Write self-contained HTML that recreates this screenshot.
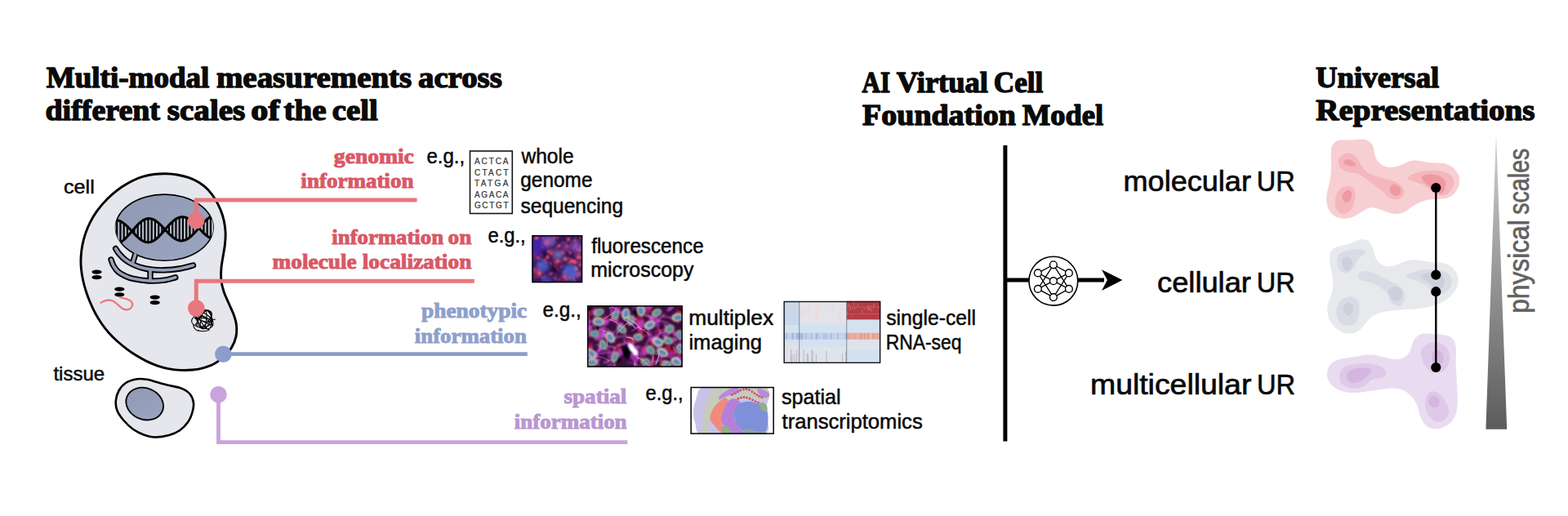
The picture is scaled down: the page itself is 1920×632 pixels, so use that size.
<!DOCTYPE html>
<html lang="en">
<head>
<meta charset="utf-8">
<title>AI Virtual Cell – multi-modal measurements and universal representations</title>
<style>
html,body{margin:0;padding:0;background:#fff;}
body{width:1920px;height:632px;overflow:hidden;font-family:"Liberation Sans",sans-serif;}
svg{display:block;position:absolute;left:0;top:0;}
svg text{white-space:pre;}
</style>
</head>
<body>
<svg width="1920" height="632" viewBox="0 0 1920 632">
<defs>
<linearGradient id="gw" x1="0" y1="0" x2="0" y2="1"><stop offset="0" stop-color="#d2d2d2"/><stop offset="0.45" stop-color="#9a9a9a"/><stop offset="1" stop-color="#5c5c5c"/></linearGradient>
<linearGradient id="gn" x1="0" y1="0" x2="1" y2="1"><stop offset="0" stop-color="#9099b4"/><stop offset="1" stop-color="#9ba5c0"/></linearGradient>
<filter id="b1" x="-20%" y="-20%" width="140%" height="140%"><feGaussianBlur stdDeviation="0.9"/></filter>
<filter id="b2" x="-20%" y="-20%" width="140%" height="140%"><feGaussianBlur stdDeviation="2.2"/></filter>
<filter id="b05" x="-20%" y="-20%" width="140%" height="140%"><feGaussianBlur stdDeviation="0.5"/></filter>
<clipPath id="cnuc"><ellipse cx="201.3" cy="278.7" rx="60" ry="40.7"/></clipPath>
<clipPath id="cfl"><rect x="651.3" y="288" width="62" height="58.3"/></clipPath>
<clipPath id="cmx"><rect x="719" y="374.2" width="116.8" height="75.5"/></clipPath>
<clipPath id="chm"><rect x="959.5" y="368.8" width="118.8" height="76.2"/></clipPath>
<clipPath id="csp"><rect x="845.4" y="473.8" width="102.5" height="58"/></clipPath>
</defs>
<g id="cellgroup">
<path d="M203.04,212.77C207.82,212.85 212.1,213.2 216.84,214.01C221.57,214.83 226.83,216 231.44,217.67C236.05,219.34 240.66,221.59 244.52,224.03C248.37,226.47 251.41,229 254.58,232.31C257.74,235.63 260.91,239.75 263.51,243.93C266.12,248.11 268.43,252.97 270.22,257.38C272.01,261.79 273.26,265.79 274.25,270.39C275.24,274.99 275.94,280.08 276.13,284.98C276.32,289.87 275.88,295.01 275.39,299.75C274.9,304.5 273.95,308.62 273.21,313.44C272.46,318.27 271.31,323.63 270.94,328.69C270.57,333.76 270.46,339.07 270.97,343.81C271.49,348.55 272.54,352.54 274.04,357.12C275.54,361.7 277.96,366.57 279.98,371.27C281.99,375.97 284.56,380.82 286.15,385.33C287.74,389.83 289.04,393.77 289.5,398.31C289.96,402.86 289.92,407.99 288.9,412.62C287.88,417.25 285.74,422.1 283.4,426.09C281.06,430.08 278.28,433.36 274.85,436.55C271.42,439.73 267.1,442.84 262.83,445.19C258.55,447.53 253.67,449.31 249.2,450.62C244.74,451.93 240.71,452.59 236.03,453.05C231.34,453.51 226.08,453.64 221.11,453.39C216.15,453.14 210.9,452.43 206.24,451.55C201.57,450.66 197.59,449.59 193.11,448.06C188.63,446.53 183.81,444.54 179.34,442.37C174.87,440.2 170.34,437.56 166.28,435.05C162.23,432.53 158.83,430.17 155.01,427.3C151.2,424.42 147.08,421.13 143.39,417.78C139.7,414.43 136.03,410.73 132.88,407.19C129.74,403.65 127.22,400.45 124.53,396.54C121.83,392.63 119.1,388.14 116.72,383.73C114.34,379.32 112.13,374.48 110.26,370.06C108.38,365.64 106.92,361.75 105.47,357.21C104.01,352.67 102.55,347.66 101.53,342.82C100.5,337.98 99.72,332.87 99.32,328.17C98.92,323.47 98.84,319.37 99.12,314.61C99.4,309.85 100.02,304.55 101,299.63C101.98,294.71 103.44,289.57 104.99,285.06C106.53,280.56 108.13,276.78 110.26,272.59C112.39,268.41 114.97,263.98 117.76,259.94C120.54,255.9 123.81,251.9 126.98,248.36C130.14,244.82 133.12,241.88 136.74,238.71C140.36,235.54 144.56,232.15 148.69,229.31C152.83,226.47 157.37,223.78 161.57,221.68C165.77,219.58 169.46,218.06 173.89,216.71C178.31,215.35 183.27,214.22 188.13,213.56C192.99,212.91 198.25,212.7 203.04,212.77Z" fill="#e6e7ec" stroke="#000" stroke-width="2.9" stroke-linejoin="round"/>
<path d="M141.6,304.5C142.33,305.58 144.02,308.7 146,311C147.98,313.3 150.83,316.22 153.5,318.3C156.17,320.38 158.83,321.95 162,323.5C165.17,325.05 168.5,326.48 172.5,327.6C176.5,328.72 181.25,329.67 186,330.2C190.75,330.73 195.33,331 201,330.8C206.67,330.6 214.08,329.97 220,329C225.92,328.03 233.75,325.67 236.5,325" fill="none" stroke="#000" stroke-width="7.4" stroke-linecap="round"/>
<path d="M136,318C136.5,319.25 137.58,323.05 139,325.5C140.42,327.95 142.17,330.65 144.5,332.7C146.83,334.75 149.92,336.37 153,337.8C156.08,339.23 158.17,340.27 163,341.3C167.83,342.33 175.67,343.68 182,344C188.33,344.32 195.53,343.9 201,343.2C206.47,342.5 212.5,340.37 214.8,339.8" fill="none" stroke="#000" stroke-width="7.4" stroke-linecap="round"/>
<path d="M165.5,312C165,313.67 163,320.33 162.5,322" fill="none" stroke="#000" stroke-width="7.4" stroke-linecap="round"/>
<path d="M184,331C184,333 184,341 184,343" fill="none" stroke="#000" stroke-width="7.4" stroke-linecap="round"/>
<ellipse cx="201.3" cy="278.7" rx="60.6" ry="41.4" fill="#000"/>
<ellipse cx="201.3" cy="278.7" rx="58.9" ry="39.7" fill="url(#gn)"/>
<path d="M141.6,304.5C142.33,305.58 144.02,308.7 146,311C147.98,313.3 150.83,316.22 153.5,318.3C156.17,320.38 158.83,321.95 162,323.5C165.17,325.05 168.5,326.48 172.5,327.6C176.5,328.72 181.25,329.67 186,330.2C190.75,330.73 195.33,331 201,330.8C206.67,330.6 214.08,329.97 220,329C225.92,328.03 233.75,325.67 236.5,325" fill="none" stroke="#969fba" stroke-width="3.7" stroke-linecap="round"/>
<path d="M136,318C136.5,319.25 137.58,323.05 139,325.5C140.42,327.95 142.17,330.65 144.5,332.7C146.83,334.75 149.92,336.37 153,337.8C156.08,339.23 158.17,340.27 163,341.3C167.83,342.33 175.67,343.68 182,344C188.33,344.32 195.53,343.9 201,343.2C206.47,342.5 212.5,340.37 214.8,339.8" fill="none" stroke="#969fba" stroke-width="3.7" stroke-linecap="round"/>
<path d="M165.5,312C165,313.67 163,320.33 162.5,322" fill="none" stroke="#969fba" stroke-width="3.7" stroke-linecap="round"/>
<path d="M184,331C184,333 184,341 184,343" fill="none" stroke="#969fba" stroke-width="3.7" stroke-linecap="round"/>
<g clip-path="url(#cnuc)">
<path d="M128,292.74 L130,294.42 L132,295.88 L134,297.07 L136,297.97 L138,298.55 L140,298.8 L142,298.71 L144,298.29 L146,297.53 L148,296.45 L150,295.08 L152,293.45 L154,291.59 L156,289.54 L158,287.35 L160,285.07 L162,282.74 L164,280.39 L166,278.11 L168,275.95 L170,273.95 L172,272.17 L174,270.64 L176,269.4 L178,268.47 L180,267.88 L182,267.63 L184,267.74 L186,268.19 L188,268.97 L190,270.07 L192,271.45 L194,273.07 L196,274.91 L198,276.9 L200,279 L202,281.16 L204,283.28 L206,285.35 L208,287.32 L210,289.14 L212,290.78 L214,292.18 L216,293.32 L218,294.16 L220,294.69 L222,294.89 L224,294.75 L226,294.28 L228,293.48 L230,292.36 L232,290.96 L234,289.31 L236,287.43 L238,285.37 L240,283.18 L242,280.9 L244,278.59 L246,276.28 L248,274.04 L250,271.91 L252,269.95 L254,268.2 L256,266.69 L258,265.47 L260,264.55 L262,263.95 L264,263.7 L266,263.78 L268,264.2 L270,264.94 L272,265.99 L274,267.32 L276,268.89 L276,286.55 L274,288.32 L272,289.83 L270,291.07 L268,292.01 L266,292.62 L264,292.9 L262,292.83 L260,292.43 L258,291.7 L256,290.67 L254,289.35 L252,287.79 L250,286.03 L248,284.09 L246,282.04 L244,279.93 L242,277.8 L240,275.71 L238,273.71 L236,271.85 L234,270.16 L232,268.7 L230,267.49 L228,266.57 L226,265.96 L224,265.68 L222,265.74 L220,266.13 L218,266.85 L216,267.88 L214,269.21 L212,270.81 L210,272.63 L208,274.65 L206,276.81 L204,279.07 L202,281.39 L200,283.74 L198,286.03 L196,288.21 L194,290.24 L192,292.06 L190,293.63 L188,294.91 L186,295.89 L184,296.53 L182,296.83 L180,296.78 L178,296.38 L176,295.64 L174,294.59 L172,293.25 L170,291.66 L168,289.86 L166,287.89 L164,285.8 L162,283.64 L160,281.51 L158,279.42 L156,277.42 L154,275.56 L152,273.89 L150,272.45 L148,271.28 L146,270.39 L144,269.83 L142,269.59 L140,269.69 L138,270.14 L136,270.91 L134,272.01 L132,273.39 L130,275.03 L128,276.91Z" fill="#bcc2d3"/>
<path d="M143.2,269.69V298.5M147.45,271V296.78M151.7,273.66V293.71M155.95,277.37V289.59M164.45,279.87V286.28M168.7,275.23V290.51M172.95,271.41V293.92M177.2,268.8V296.12M181.45,267.67V296.85M185.7,268.1V296.01M189.95,270.04V293.66M194.2,273.25V290.04M198.45,277.36V285.52M206.95,275.77V286.3M211.2,271.51V290.15M215.45,268.22V293.03M219.7,266.21V294.63M223.95,265.68V294.76M228.2,266.65V293.38M232.45,269.01V290.61M236.7,272.48V286.73M249.45,272.48V285.51M253.7,268.45V289.13M257.95,265.5V291.68M262.2,263.91V292.85M266.45,263.84V292.51M270.7,265.27V290.67M274.95,268.03V287.51" stroke="#05060a" stroke-width="2.3" fill="none"/>
<path d="M128,292.74 L130,294.42 L132,295.88 L134,297.07 L136,297.97 L138,298.55 L140,298.8 L142,298.71 L144,298.29 L146,297.53 L148,296.45 L150,295.08 L152,293.45 L154,291.59 L156,289.54 L158,287.35 L160,285.07 L162,282.74 L164,280.39 L166,278.11 L168,275.95 L170,273.95 L172,272.17 L174,270.64 L176,269.4 L178,268.47 L180,267.88 L182,267.63 L184,267.74 L186,268.19 L188,268.97 L190,270.07 L192,271.45 L194,273.07 L196,274.91 L198,276.9 L200,279 L202,281.16 L204,283.28 L206,285.35 L208,287.32 L210,289.14 L212,290.78 L214,292.18 L216,293.32 L218,294.16 L220,294.69 L222,294.89 L224,294.75 L226,294.28 L228,293.48 L230,292.36 L232,290.96 L234,289.31 L236,287.43 L238,285.37 L240,283.18 L242,280.9 L244,278.59 L246,276.28 L248,274.04 L250,271.91 L252,269.95 L254,268.2 L256,266.69 L258,265.47 L260,264.55 L262,263.95 L264,263.7 L266,263.78 L268,264.2 L270,264.94 L272,265.99 L274,267.32 L276,268.89" fill="none" stroke="#000" stroke-width="3.1" stroke-linejoin="round"/>
<path d="M128,276.91 L130,275.03 L132,273.39 L134,272.01 L136,270.91 L138,270.14 L140,269.69 L142,269.59 L144,269.83 L146,270.39 L148,271.28 L150,272.45 L152,273.89 L154,275.56 L156,277.42 L158,279.42 L160,281.51 L162,283.64 L164,285.8 L166,287.89 L168,289.86 L170,291.66 L172,293.25 L174,294.59 L176,295.64 L178,296.38 L180,296.78 L182,296.83 L184,296.53 L186,295.89 L188,294.91 L190,293.63 L192,292.06 L194,290.24 L196,288.21 L198,286.03 L200,283.74 L202,281.39 L204,279.07 L206,276.81 L208,274.65 L210,272.63 L212,270.81 L214,269.21 L216,267.88 L218,266.85 L220,266.13 L222,265.74 L224,265.68 L226,265.96 L228,266.57 L230,267.49 L232,268.7 L234,270.16 L236,271.85 L238,273.71 L240,275.71 L242,277.8 L244,279.93 L246,282.04 L248,284.09 L250,286.03 L252,287.79 L254,289.35 L256,290.67 L258,291.7 L260,292.43 L262,292.83 L264,292.9 L266,292.62 L268,292.01 L270,291.07 L272,289.83 L274,288.32 L276,286.55" fill="none" stroke="#000" stroke-width="3.1" stroke-linejoin="round"/>
</g>
<ellipse cx="118.5" cy="333.09999999999997" rx="6.1" ry="2.65" fill="#000"/><ellipse cx="118.5" cy="339.7" rx="6.1" ry="2.65" fill="#000"/>
<ellipse cx="146.3" cy="354.2" rx="6.1" ry="2.65" fill="#000"/><ellipse cx="146.3" cy="360.8" rx="6.1" ry="2.65" fill="#000"/>
<ellipse cx="189.7" cy="364.09999999999997" rx="6.1" ry="2.65" fill="#000"/><ellipse cx="189.7" cy="370.7" rx="6.1" ry="2.65" fill="#000"/>
<path d="M123.5,370.8C124.25,370.43 126.42,369.13 128,368.6C129.58,368.07 131.33,367.6 133,367.6C134.67,367.6 136.42,367.93 138,368.6C139.58,369.27 141,370.43 142.5,371.6C144,372.77 145.5,374.43 147,375.6C148.5,376.77 149.92,378 151.5,378.6C153.08,379.2 155,379.47 156.5,379.2C158,378.93 159.53,378.03 160.5,377C161.47,375.97 162.3,374.33 162.3,373C162.3,371.67 161.55,370.07 160.5,369C159.45,367.93 157.58,367.23 156,366.6C154.42,365.97 152.5,365.6 151,365.2C149.5,364.8 147.67,364.37 147,364.2" fill="none" stroke="#e8777e" stroke-width="2.2" stroke-linecap="round"/>
<path d="M238.49,398.75C243.92,392.42 249.22,378.3 254.78,379.77C260.34,381.24 259.7,402.72 255.18,403.16C250.65,403.6 239.69,384.23 241.21,381.09C242.73,377.96 259.68,387.7 259.74,393.74C259.79,399.78 244.11,403.47 241.37,399.21C238.62,394.96 248.75,380.26 251.5,380.98C254.25,381.7 253.03,400.12 249.62,401.37C246.21,402.62 237.62,385.76 241.28,384.73C244.94,383.71 261.95,398.1 260.6,398.29C259.24,398.48 238.03,390.23 237.22,385.3C236.41,380.37 255.18,378.49 258.17,383.49C261.16,388.48 248.39,401.69 246.18,400.3C243.98,398.9 247.24,379.19 251.56,379.31C255.87,379.43 264.78,395.91 259.13,400.65C253.48,405.4 235.1,400.02 234.61,393.54C234.12,387.06 252.65,378.14 257.68,381.21C262.7,384.29 255.25,401.44 249.69,402.76C244.13,404.07 237.8,387.79 241,385.16C244.21,382.53 260.17,393.48 259.31,394.86C258.45,396.24 236.9,390.49 238.42,389.3C239.95,388.1 255.4,390.61 263.89,391.27" fill="none" stroke="#000" stroke-width="1.05" stroke-linejoin="round"/>
<path d="M236.6,397.5c0.6,4.4 2.8,7 6.2,7.8 M242.5,404.4c3.5,1.8 9.5,1.8 14,-0.4" fill="none" stroke="#000" stroke-width="1.1" stroke-linecap="round"/>
</g>
<path d="M168,464.2C172.33,463.5 175.67,464.07 180,464.8C184.33,465.53 189.5,467.4 194,468.6C198.5,469.8 202.33,470.83 207,472C211.67,473.17 217.75,473.85 222,475.6C226.25,477.35 230,479.52 232.5,482.5C235,485.48 236.5,489.75 237,493.5C237.5,497.25 236.58,501.17 235.5,505C234.42,508.83 233.08,512.78 230.5,516.5C227.92,520.22 223.92,524.55 220,527.3C216.08,530.05 212,531.63 207,533C202,534.37 195.17,535.58 190,535.5C184.83,535.42 180.5,534.12 176,532.5C171.5,530.88 167.08,528.72 163,525.8C158.92,522.88 154.75,518.8 151.5,515C148.25,511.2 145.12,507 143.5,503C141.88,499 141.47,495.08 141.8,491C142.13,486.92 143.47,482.17 145.5,478.5C147.53,474.83 150.25,471.38 154,469C157.75,466.62 163.67,464.9 168,464.2Z" fill="#e6e7ec" stroke="#000" stroke-width="2.6"/>
<ellipse cx="177.2" cy="494.6" rx="23.4" ry="19.2" transform="rotate(22 177.2 494.6)" fill="url(#gn)" stroke="#000" stroke-width="1.8"/>
<path d="M240.2,270V245H510.5" fill="none" stroke="#e8777e" stroke-width="5.0" stroke-linejoin="miter"/>
<circle cx="240.2" cy="270" r="10.3" fill="#e8777e"/>
<path d="M240.3,377.6V344.3H580.8" fill="none" stroke="#e8777e" stroke-width="5.0" stroke-linejoin="miter"/>
<circle cx="240.3" cy="377.6" r="10.3" fill="#e8777e"/>
<path d="M273.4,433.7H645.8" fill="none" stroke="#8b9dcb" stroke-width="4.8"/>
<circle cx="273.4" cy="433.7" r="10.3" fill="#8b9dcb"/>
<path d="M267.5,483.2V541.7H768.3" fill="none" stroke="#c9a3dc" stroke-width="4.8" stroke-linejoin="miter"/>
<circle cx="267.5" cy="483.2" r="10.3" fill="#c9a3dc"/>
<rect x="575.5" y="185" width="51.8" height="76.5" fill="#fff" stroke="#151515" stroke-width="1.6"/>
<text x="580.9" y="200.8" font-family="&quot;Liberation Sans&quot;, sans-serif" font-size="10" fill="#383838" stroke="#383838" stroke-width="0.25" textLength="41.6" lengthAdjust="spacing">ACTCA</text>
<text x="580.9" y="214.7" font-family="&quot;Liberation Sans&quot;, sans-serif" font-size="10" fill="#383838" stroke="#383838" stroke-width="0.25" textLength="41.6" lengthAdjust="spacing">CTACT</text>
<text x="580.9" y="228.3" font-family="&quot;Liberation Sans&quot;, sans-serif" font-size="10" fill="#383838" stroke="#383838" stroke-width="0.25" textLength="41.6" lengthAdjust="spacing">TATGA</text>
<text x="580.9" y="241.7" font-family="&quot;Liberation Sans&quot;, sans-serif" font-size="10" fill="#383838" stroke="#383838" stroke-width="0.25" textLength="41.6" lengthAdjust="spacing">AGACA</text>
<text x="580.9" y="255.0" font-family="&quot;Liberation Sans&quot;, sans-serif" font-size="10" fill="#383838" stroke="#383838" stroke-width="0.25" textLength="41.6" lengthAdjust="spacing">GCTGT</text>
<g clip-path="url(#cfl)">
<rect x="651.3" y="288.0" width="62" height="58.3" fill="#32165a"/>
<g filter="url(#b2)">
<circle cx="659.92" cy="302.26" r="11.13" fill="#4422a8" opacity="0.95"/>
<circle cx="672.8" cy="295.23" r="7.03" fill="#6666d0" opacity="0.8"/>
<circle cx="705.6" cy="302.26" r="7.03" fill="#7a58c8" opacity="0.75"/>
<circle cx="683.35" cy="311.63" r="5.86" fill="#5878cc" opacity="0.8"/>
<circle cx="664.02" cy="325.69" r="7.73" fill="#3c58c8" opacity="0.95"/>
<circle cx="698.58" cy="333.3" r="9.84" fill="#4560cc" opacity="0.95"/>
<circle cx="709.12" cy="289.37" r="4.45" fill="#000" opacity="1"/>
<circle cx="678.66" cy="329.2" r="3.98" fill="#2a0618" opacity="0.9"/>
<circle cx="669.29" cy="343.85" r="5.86" fill="#4444bc" opacity="0.8"/>
<circle cx="666.94" cy="310.46" r="4.45" fill="#150616" opacity="0.75"/>
<circle cx="690.37" cy="318.66" r="3.51" fill="#500c28" opacity="0.7"/>
<circle cx="657.57" cy="333.89" r="4.92" fill="#c02858" opacity="0.7"/>
<circle cx="675.15" cy="309.29" r="3.98" fill="#c03060" opacity="0.6"/>
<circle cx="692.72" cy="303.43" r="5.15" fill="#c040a0" opacity="0.55"/>
<circle cx="708.53" cy="336.23" r="3.51" fill="#d04080" opacity="0.6"/>
<circle cx="669.29" cy="296.4" r="4.69" fill="#c060c0" opacity="0.5"/>
<circle cx="689.2" cy="340.92" r="3.98" fill="#b02860" opacity="0.6"/>
<circle cx="710.29" cy="315.15" r="3.98" fill="#d04070" opacity="0.6"/>
<circle cx="681" cy="321" r="4.69" fill="#a02048" opacity="0.6"/>
<circle cx="654.06" cy="315.15" r="3.51" fill="#b03060" opacity="0.5"/>
</g><g filter="url(#b1)">
<ellipse cx="702.09" cy="320.07" rx="4" ry="2.6" fill="#f24c5c" opacity="0.95"/>
<circle cx="658.74" cy="315.15" r="1.7" fill="#f0506a" opacity="0.9"/>
<circle cx="655.23" cy="330.37" r="1.4" fill="#e8507a" opacity="0.9"/>
<circle cx="661.09" cy="335.06" r="2.0" fill="#ff6a70" opacity="0.9"/>
<circle cx="663.43" cy="339.75" r="1.3" fill="#d860a8" opacity="0.9"/>
<circle cx="669.29" cy="297.57" r="2.3" fill="#f04860" opacity="0.9"/>
<circle cx="678.66" cy="291.72" r="1.7" fill="#f0506a" opacity="0.9"/>
<circle cx="675.15" cy="310.46" r="1.4" fill="#e8507a" opacity="0.9"/>
<circle cx="683.35" cy="319.83" r="2.0" fill="#ff6a70" opacity="0.9"/>
<circle cx="693.89" cy="301.09" r="1.3" fill="#d860a8" opacity="0.9"/>
<circle cx="700.92" cy="319.83" r="2.3" fill="#f04860" opacity="0.9"/>
<circle cx="704.2" cy="320.77" r="1.7" fill="#f0506a" opacity="0.9"/>
<circle cx="703.26" cy="294.06" r="1.4" fill="#e8507a" opacity="0.9"/>
<circle cx="707.95" cy="315.15" r="2.0" fill="#ff6a70" opacity="0.9"/>
<circle cx="709.12" cy="336.23" r="1.3" fill="#d860a8" opacity="0.9"/>
<circle cx="691.55" cy="338.58" r="2.3" fill="#f04860" opacity="0.9"/>
<circle cx="689.2" cy="309.29" r="1.7" fill="#f0506a" opacity="0.9"/>
<circle cx="698.58" cy="309.29" r="1.4" fill="#e8507a" opacity="0.9"/>
<circle cx="656.4" cy="291.72" r="2.0" fill="#ff6a70" opacity="0.9"/>
<circle cx="664.6" cy="291.72" r="1.3" fill="#d860a8" opacity="0.9"/>
<circle cx="670.46" cy="315.15" r="2.3" fill="#f04860" opacity="0.9"/>
<circle cx="679.83" cy="340.92" r="1.7" fill="#f0506a" opacity="0.9"/>
<circle cx="686.86" cy="326.86" r="1.4" fill="#e8507a" opacity="0.9"/>
<circle cx="705.6" cy="329.2" r="2.0" fill="#ff6a70" opacity="0.9"/>
<circle cx="710.29" cy="305.77" r="1.3" fill="#d860a8" opacity="0.9"/>
<circle cx="696.23" cy="292.89" r="2.3" fill="#f04860" opacity="0.9"/>
<circle cx="675.15" cy="335.06" r="1.7" fill="#f0506a" opacity="0.9"/>
<circle cx="666.94" cy="318.66" r="1.4" fill="#e8507a" opacity="0.9"/>
<circle cx="692.72" cy="317.49" r="2.0" fill="#ff6a70" opacity="0.9"/>
<circle cx="702.09" cy="340.92" r="1.3" fill="#d860a8" opacity="0.9"/>
<circle cx="710.29" cy="324.52" r="2.3" fill="#f04860" opacity="0.9"/>
<circle cx="699.16" cy="318.66" r="1.7" fill="#f0506a" opacity="0.9"/>
<circle cx="659.92" cy="332.72" r="1.4" fill="#e8507a" opacity="0.9"/>
<circle cx="684.52" cy="301.09" r="2.0" fill="#ff6a70" opacity="0.9"/>
<circle cx="666.05" cy="319.73" r="1.24" fill="#d04070" opacity="0.75"/>
<circle cx="680.69" cy="321.86" r="1.24" fill="#e05080" opacity="0.75"/>
<circle cx="680.39" cy="320.11" r="1.3" fill="#e04868" opacity="0.75"/>
<circle cx="680.46" cy="336.77" r="0.88" fill="#f07088" opacity="0.75"/>
<circle cx="704.68" cy="301.52" r="1.21" fill="#f06060" opacity="0.75"/>
<circle cx="683.74" cy="331.21" r="0.71" fill="#c860c0" opacity="0.75"/>
<circle cx="710.66" cy="290.49" r="1.18" fill="#e05080" opacity="0.75"/>
<circle cx="668" cy="322.67" r="1.1" fill="#c83c60" opacity="0.75"/>
<circle cx="708.41" cy="311.03" r="1.27" fill="#f07088" opacity="0.75"/>
<circle cx="681.98" cy="303.04" r="1.15" fill="#c83c60" opacity="0.75"/>
<circle cx="704.32" cy="312.55" r="1" fill="#c83c60" opacity="0.75"/>
<circle cx="684.41" cy="311.76" r="1.23" fill="#e04868" opacity="0.75"/>
<circle cx="693.58" cy="342.16" r="1.29" fill="#e878b0" opacity="0.75"/>
<circle cx="692.92" cy="297.51" r="1.28" fill="#d04070" opacity="0.75"/>
<circle cx="707.39" cy="321.18" r="1.04" fill="#e04868" opacity="0.75"/>
<circle cx="712.56" cy="303.57" r="0.64" fill="#c860c0" opacity="0.75"/>
<circle cx="704.24" cy="345.71" r="0.84" fill="#c860c0" opacity="0.75"/>
<circle cx="655.43" cy="340.3" r="0.81" fill="#e05080" opacity="0.75"/>
<circle cx="698.97" cy="338.88" r="1.02" fill="#e05080" opacity="0.75"/>
<circle cx="698.52" cy="310.03" r="0.99" fill="#d04070" opacity="0.75"/>
<circle cx="708.46" cy="304.27" r="1.3" fill="#e04868" opacity="0.75"/>
<circle cx="689.15" cy="297.11" r="1.29" fill="#e05080" opacity="0.75"/>
<circle cx="704.73" cy="309.96" r="1.05" fill="#c83c60" opacity="0.75"/>
<circle cx="688.23" cy="320.6" r="0.9" fill="#e878b0" opacity="0.75"/>
<circle cx="695.96" cy="301.85" r="0.91" fill="#e878b0" opacity="0.75"/>
<circle cx="700.18" cy="345.57" r="0.61" fill="#d04070" opacity="0.75"/>
<circle cx="689.48" cy="324.86" r="1.04" fill="#e05080" opacity="0.75"/>
<circle cx="671.91" cy="308.57" r="1.12" fill="#e878b0" opacity="0.75"/>
<circle cx="711.02" cy="302.64" r="0.81" fill="#f07088" opacity="0.75"/>
<circle cx="688.59" cy="298.34" r="0.82" fill="#f06060" opacity="0.75"/>
<circle cx="674.19" cy="322.72" r="1.15" fill="#e878b0" opacity="0.75"/>
<circle cx="657.8" cy="335.4" r="0.82" fill="#f06060" opacity="0.75"/>
<circle cx="665.1" cy="334.86" r="0.83" fill="#e04868" opacity="0.75"/>
<circle cx="693.34" cy="325.87" r="0.67" fill="#c860c0" opacity="0.75"/>
<circle cx="671.26" cy="307.46" r="1.17" fill="#f07088" opacity="0.75"/>
<circle cx="710.86" cy="292.66" r="1.22" fill="#e04868" opacity="0.75"/>
<circle cx="679.27" cy="301.12" r="0.62" fill="#c860c0" opacity="0.75"/>
<circle cx="710.67" cy="306.37" r="1.2" fill="#f06060" opacity="0.75"/>
<circle cx="672.39" cy="336.27" r="1.16" fill="#c860c0" opacity="0.75"/>
<circle cx="700.52" cy="303.81" r="1.04" fill="#d04070" opacity="0.75"/>
<circle cx="669.3" cy="321.13" r="1.24" fill="#e05080" opacity="0.75"/>
<circle cx="660.97" cy="288.27" r="0.99" fill="#c83c60" opacity="0.75"/>
<circle cx="712.42" cy="329.82" r="1.12" fill="#e05080" opacity="0.75"/>
<circle cx="703.18" cy="326.65" r="0.98" fill="#e878b0" opacity="0.75"/>
<circle cx="706.46" cy="338.23" r="0.68" fill="#e878b0" opacity="0.75"/>
<circle cx="666.46" cy="290.05" r="1.23" fill="#e04868" opacity="0.75"/>
<circle cx="707.08" cy="321.64" r="0.94" fill="#e05080" opacity="0.75"/>
<circle cx="658.79" cy="317.34" r="1.06" fill="#e04868" opacity="0.75"/>
<circle cx="683.85" cy="312.12" r="0.84" fill="#c860c0" opacity="0.75"/>
<circle cx="666.95" cy="338.24" r="1.17" fill="#f07088" opacity="0.75"/>
<circle cx="706.33" cy="294.95" r="1.15" fill="#e04868" opacity="0.75"/>
<circle cx="708.45" cy="334.99" r="0.94" fill="#e05080" opacity="0.75"/>
<circle cx="686.7" cy="311.34" r="0.77" fill="#e878b0" opacity="0.75"/>
<circle cx="689.62" cy="318.3" r="0.93" fill="#e05080" opacity="0.75"/>
<circle cx="699.44" cy="288.11" r="1.14" fill="#e05080" opacity="0.75"/>
<circle cx="653.35" cy="329.55" r="0.82" fill="#f07088" opacity="0.75"/>
<circle cx="687.67" cy="309.04" r="1.29" fill="#e04868" opacity="0.75"/>
<circle cx="677.88" cy="295.44" r="1.1" fill="#e05080" opacity="0.75"/>
<circle cx="674.87" cy="292.66" r="0.63" fill="#f06060" opacity="0.75"/>
<circle cx="679.87" cy="325.91" r="1.05" fill="#c83c60" opacity="0.75"/>
<circle cx="653.99" cy="339.69" r="0.86" fill="#e05080" opacity="0.75"/>
<circle cx="682.06" cy="328.98" r="1.27" fill="#c83c60" opacity="0.75"/>
<circle cx="677.23" cy="289.05" r="0.98" fill="#e04868" opacity="0.75"/>
<circle cx="694.4" cy="292.17" r="0.76" fill="#c83c60" opacity="0.75"/>
<circle cx="711.37" cy="320.59" r="0.69" fill="#e878b0" opacity="0.75"/>
<circle cx="694.11" cy="342.75" r="1.07" fill="#c83c60" opacity="0.75"/>
<circle cx="696.79" cy="320.87" r="1.17" fill="#c860c0" opacity="0.75"/>
<circle cx="695.73" cy="315.61" r="1.14" fill="#e04868" opacity="0.75"/>
<circle cx="705.89" cy="298.44" r="0.84" fill="#e05080" opacity="0.75"/>
<circle cx="704.14" cy="289.48" r="1.07" fill="#c860c0" opacity="0.75"/>
<circle cx="703.14" cy="343.53" r="1.16" fill="#e878b0" opacity="0.75"/>
<circle cx="653.55" cy="332.74" r="0.67" fill="#e04868" opacity="0.75"/>
<circle cx="697.74" cy="342.48" r="0.99" fill="#e05080" opacity="0.75"/>
<circle cx="705.2" cy="298.52" r="0.77" fill="#c860c0" opacity="0.75"/>
<circle cx="698.02" cy="310.95" r="1.02" fill="#d04070" opacity="0.75"/>
<circle cx="709.5" cy="320.45" r="0.86" fill="#c860c0" opacity="0.75"/>
<circle cx="665.89" cy="342.19" r="0.89" fill="#f06060" opacity="0.75"/>
<circle cx="686.54" cy="321.8" r="0.71" fill="#f07088" opacity="0.75"/>
<circle cx="676.17" cy="339.74" r="0.67" fill="#f06060" opacity="0.75"/>
<circle cx="697.69" cy="341.44" r="1.01" fill="#f07088" opacity="0.75"/>
<circle cx="704.5" cy="295.95" r="0.7" fill="#e04868" opacity="0.75"/>
<circle cx="683.27" cy="342.5" r="1.07" fill="#e878b0" opacity="0.75"/>
<circle cx="704.33" cy="322.7" r="1.22" fill="#e878b0" opacity="0.75"/>
<circle cx="670.35" cy="303.63" r="0.72" fill="#e04868" opacity="0.75"/>
<circle cx="673.65" cy="306.78" r="0.89" fill="#f06060" opacity="0.75"/>
<circle cx="694.55" cy="328.9" r="0.93" fill="#e04868" opacity="0.75"/>
<circle cx="703.05" cy="335.9" r="0.94" fill="#e05080" opacity="0.75"/>
<circle cx="695.98" cy="337.94" r="1.15" fill="#c83c60" opacity="0.75"/>
<circle cx="705.97" cy="290.67" r="1.22" fill="#e04868" opacity="0.75"/>
<circle cx="691.49" cy="333.32" r="1.27" fill="#c860c0" opacity="0.75"/>
<circle cx="704.24" cy="302.11" r="1.14" fill="#e04868" opacity="0.75"/>
<circle cx="659.82" cy="324.26" r="1.23" fill="#e05080" opacity="0.75"/>
<circle cx="667.11" cy="338.44" r="0.73" fill="#d04070" opacity="0.75"/>
<circle cx="656.94" cy="334.58" r="0.66" fill="#c860c0" opacity="0.75"/>
<circle cx="703" cy="305.01" r="0.92" fill="#d04070" opacity="0.75"/>
<circle cx="696.81" cy="307.63" r="0.83" fill="#e05080" opacity="0.75"/>
<circle cx="678.35" cy="316.33" r="1.05" fill="#e04868" opacity="0.75"/>
<circle cx="697.33" cy="316.57" r="0.98" fill="#f06060" opacity="0.75"/>
<circle cx="658.28" cy="339.72" r="0.67" fill="#e878b0" opacity="0.75"/>
<circle cx="709.66" cy="309.82" r="1.13" fill="#d04070" opacity="0.75"/>
<circle cx="669.62" cy="327.4" r="0.68" fill="#e878b0" opacity="0.75"/>
<circle cx="709.86" cy="307.74" r="1.07" fill="#c860c0" opacity="0.75"/>
<circle cx="682.84" cy="291.47" r="1.07" fill="#e878b0" opacity="0.75"/>
<circle cx="686.42" cy="298.61" r="0.73" fill="#f06060" opacity="0.75"/>
<circle cx="706.47" cy="326.21" r="0.68" fill="#c860c0" opacity="0.75"/>
<circle cx="686.01" cy="341.68" r="0.99" fill="#c83c60" opacity="0.75"/>
<circle cx="691.44" cy="314.68" r="1.15" fill="#e878b0" opacity="0.75"/>
<circle cx="695.04" cy="294.26" r="1.13" fill="#f06060" opacity="0.75"/>
<circle cx="684.97" cy="331.12" r="0.67" fill="#d04070" opacity="0.75"/>
<circle cx="680.98" cy="303.81" r="1.21" fill="#d04070" opacity="0.75"/>
<circle cx="709.89" cy="314.13" r="0.85" fill="#c860c0" opacity="0.75"/>
<circle cx="703.81" cy="294.54" r="1.01" fill="#e878b0" opacity="0.75"/>
<circle cx="693.55" cy="320.9" r="0.73" fill="#c860c0" opacity="0.75"/>
<circle cx="663.03" cy="312.29" r="1.17" fill="#c83c60" opacity="0.75"/>
<circle cx="697.72" cy="322.51" r="1.2" fill="#f06060" opacity="0.75"/>
<circle cx="700.79" cy="319.76" r="1" fill="#f06060" opacity="0.75"/>
<circle cx="663.83" cy="302.58" r="1.19" fill="#e05080" opacity="0.75"/>
<circle cx="678.88" cy="311.74" r="0.82" fill="#c83c60" opacity="0.75"/>
<circle cx="707.48" cy="306.05" r="1.28" fill="#f07088" opacity="0.75"/>
<circle cx="693.87" cy="305.46" r="0.62" fill="#f07088" opacity="0.75"/>
<circle cx="663.11" cy="324.96" r="1.14" fill="#c860c0" opacity="0.75"/>
<circle cx="692.34" cy="316.68" r="0.74" fill="#f07088" opacity="0.75"/>
<circle cx="699.79" cy="300.35" r="0.68" fill="#f07088" opacity="0.75"/>
<circle cx="668.86" cy="326.33" r="0.69" fill="#f06060" opacity="0.75"/>
<circle cx="700.43" cy="324.34" r="0.62" fill="#e05080" opacity="0.75"/>
<circle cx="689.64" cy="317.5" r="0.98" fill="#f07088" opacity="0.75"/>
<circle cx="708.95" cy="306.84" r="1.09" fill="#d04070" opacity="0.75"/>
<circle cx="659.63" cy="338.04" r="1.1" fill="#e05080" opacity="0.75"/>
<circle cx="697.16" cy="308.03" r="1.25" fill="#e04868" opacity="0.75"/>
<circle cx="704.71" cy="313.48" r="0.94" fill="#e04868" opacity="0.75"/>
<circle cx="694.66" cy="319.33" r="0.75" fill="#c83c60" opacity="0.75"/>
<circle cx="681.62" cy="289.36" r="1.13" fill="#f07088" opacity="0.75"/>
<circle cx="676.19" cy="298.53" r="1.1" fill="#e05080" opacity="0.75"/>
<circle cx="674.05" cy="309.63" r="1.02" fill="#d04070" opacity="0.75"/>
<circle cx="699.86" cy="296.36" r="0.97" fill="#f07088" opacity="0.75"/>
<circle cx="682.53" cy="325.12" r="0.68" fill="#f06060" opacity="0.75"/>
<circle cx="661.73" cy="316.58" r="1.19" fill="#e05080" opacity="0.75"/>
<circle cx="676.29" cy="306.53" r="1.09" fill="#e05080" opacity="0.75"/>
<circle cx="654.47" cy="311.51" r="0.95" fill="#c83c60" opacity="0.75"/>
<circle cx="707.66" cy="339.48" r="0.67" fill="#e04868" opacity="0.75"/>
<circle cx="680.72" cy="297.61" r="0.84" fill="#c860c0" opacity="0.75"/>
<circle cx="658.98" cy="291.03" r="1.29" fill="#e878b0" opacity="0.75"/>
<circle cx="709.7" cy="334.01" r="0.94" fill="#e878b0" opacity="0.75"/>
<circle cx="686.09" cy="289.76" r="1.04" fill="#d04070" opacity="0.75"/>
<circle cx="711.39" cy="322.53" r="0.67" fill="#e05080" opacity="0.75"/>
<circle cx="693.51" cy="289.11" r="0.94" fill="#e05080" opacity="0.75"/>
<circle cx="663.02" cy="317.72" r="0.74" fill="#d04070" opacity="0.75"/>
<circle cx="711.68" cy="315.8" r="1.24" fill="#f07088" opacity="0.75"/>
<circle cx="709.59" cy="289.99" r="1.13" fill="#e878b0" opacity="0.75"/>
<circle cx="690.45" cy="310.99" r="0.73" fill="#e878b0" opacity="0.75"/>
</g></g>
<rect x="652.0" y="288.7" width="60.6" height="56.9" fill="none" stroke="#07030c" stroke-width="1.4"/>
<g clip-path="url(#cmx)">
<rect x="719.0" y="374.2" width="116.8" height="75.5" fill="#3a0e40"/>
<g filter="url(#b1)">
<ellipse cx="771.93" cy="416.74" rx="4.76" ry="4.07" fill="#b01c40" opacity="0.85" transform="rotate(34 771.93 416.74)"/>
<ellipse cx="813.06" cy="410.36" rx="6.46" ry="1.78" fill="#c850c8" opacity="0.85" transform="rotate(54 813.06 410.36)"/>
<ellipse cx="729.61" cy="435.73" rx="5.48" ry="2.69" fill="#b030b8" opacity="0.85" transform="rotate(81 729.61 435.73)"/>
<ellipse cx="805.45" cy="423.61" rx="2.58" ry="3.09" fill="#c850c8" opacity="0.85" transform="rotate(10 805.45 423.61)"/>
<ellipse cx="741.25" cy="392.59" rx="6.39" ry="2.48" fill="#b030b8" opacity="0.85" transform="rotate(106 741.25 392.59)"/>
<ellipse cx="741.85" cy="391.96" rx="5" ry="3.49" fill="#c048d0" opacity="0.85" transform="rotate(82 741.85 391.96)"/>
<ellipse cx="751.55" cy="450.02" rx="6.04" ry="2.45" fill="#9a28a8" opacity="0.85" transform="rotate(41 751.55 450.02)"/>
<ellipse cx="752.82" cy="379.54" rx="4.5" ry="4.04" fill="#9a28a8" opacity="0.85" transform="rotate(69 752.82 379.54)"/>
<ellipse cx="831.09" cy="438.6" rx="3.57" ry="4.28" fill="#b030b8" opacity="0.85" transform="rotate(9 831.09 438.6)"/>
<ellipse cx="762.93" cy="428.08" rx="2.87" ry="3.39" fill="#d040c0" opacity="0.85" transform="rotate(140 762.93 428.08)"/>
<ellipse cx="750.56" cy="380.82" rx="2.58" ry="2.73" fill="#7a1c8a" opacity="0.85" transform="rotate(166 750.56 380.82)"/>
<ellipse cx="734.75" cy="427.93" rx="2.8" ry="3.89" fill="#b030b8" opacity="0.85" transform="rotate(31 734.75 427.93)"/>
<ellipse cx="784.44" cy="408.2" rx="7.43" ry="3.81" fill="#a01840" opacity="0.85" transform="rotate(75 784.44 408.2)"/>
<ellipse cx="763.9" cy="404.21" rx="2.5" ry="4.09" fill="#a01840" opacity="0.85" transform="rotate(175 763.9 404.21)"/>
<ellipse cx="788.35" cy="450.04" rx="3.55" ry="2.68" fill="#b030b8" opacity="0.85" transform="rotate(153 788.35 450.04)"/>
<ellipse cx="794.09" cy="381.83" rx="3.57" ry="2.27" fill="#b81c58" opacity="0.85" transform="rotate(139 794.09 381.83)"/>
<ellipse cx="757.49" cy="396.72" rx="2.87" ry="2.13" fill="#9a28a8" opacity="0.85" transform="rotate(114 757.49 396.72)"/>
<ellipse cx="720.81" cy="402.22" rx="4.77" ry="4.38" fill="#c850c8" opacity="0.85" transform="rotate(87 720.81 402.22)"/>
<ellipse cx="786.22" cy="440.06" rx="5.64" ry="2.43" fill="#b81c58" opacity="0.85" transform="rotate(41 786.22 440.06)"/>
<ellipse cx="790.42" cy="429.33" rx="6.2" ry="4.32" fill="#b81c58" opacity="0.85" transform="rotate(35 790.42 429.33)"/>
<ellipse cx="830.17" cy="441.25" rx="2.89" ry="1.64" fill="#c850c8" opacity="0.85" transform="rotate(19 830.17 441.25)"/>
<ellipse cx="778.95" cy="393.59" rx="3.78" ry="3.97" fill="#d040c0" opacity="0.85" transform="rotate(107 778.95 393.59)"/>
<ellipse cx="753.33" cy="387.53" rx="3.13" ry="2.94" fill="#9a28a8" opacity="0.85" transform="rotate(117 753.33 387.53)"/>
<ellipse cx="791.06" cy="379.83" rx="7.09" ry="2.11" fill="#a01840" opacity="0.85" transform="rotate(2 791.06 379.83)"/>
<ellipse cx="750.5" cy="408.07" rx="2.73" ry="2.35" fill="#b030b8" opacity="0.85" transform="rotate(95 750.5 408.07)"/>
<ellipse cx="832.85" cy="381.21" rx="6.95" ry="4.44" fill="#b81c58" opacity="0.85" transform="rotate(118 832.85 381.21)"/>
<ellipse cx="799.87" cy="418.62" rx="5.45" ry="4.27" fill="#b81c58" opacity="0.85" transform="rotate(85 799.87 418.62)"/>
<ellipse cx="760.82" cy="397.9" rx="2.61" ry="3.41" fill="#b030b8" opacity="0.85" transform="rotate(86 760.82 397.9)"/>
<ellipse cx="804.47" cy="398.44" rx="2.88" ry="3.14" fill="#9a28a8" opacity="0.85" transform="rotate(132 804.47 398.44)"/>
<ellipse cx="824.32" cy="430.22" rx="6.47" ry="4.25" fill="#b81c58" opacity="0.85" transform="rotate(63 824.32 430.22)"/>
<ellipse cx="799.16" cy="442.66" rx="7.22" ry="1.59" fill="#d040c0" opacity="0.85" transform="rotate(89 799.16 442.66)"/>
<ellipse cx="720.7" cy="424.53" rx="5.41" ry="3.33" fill="#d040c0" opacity="0.85" transform="rotate(14 720.7 424.53)"/>
<ellipse cx="793.81" cy="449.69" rx="6.14" ry="2.67" fill="#d040c0" opacity="0.85" transform="rotate(132 793.81 449.69)"/>
<ellipse cx="786.97" cy="407.68" rx="2.92" ry="3.75" fill="#8a1238" opacity="0.85" transform="rotate(5 786.97 407.68)"/>
<ellipse cx="789.35" cy="410.75" rx="7.29" ry="1.84" fill="#a01840" opacity="0.85" transform="rotate(140 789.35 410.75)"/>
<ellipse cx="796.24" cy="411.16" rx="4.34" ry="1.93" fill="#b030b8" opacity="0.85" transform="rotate(110 796.24 411.16)"/>
<ellipse cx="779.65" cy="431.49" rx="5.8" ry="2.83" fill="#7a1c8a" opacity="0.85" transform="rotate(160 779.65 431.49)"/>
<ellipse cx="757.25" cy="424.81" rx="5.67" ry="3.91" fill="#a01840" opacity="0.85" transform="rotate(135 757.25 424.81)"/>
<ellipse cx="742.43" cy="390.48" rx="5.42" ry="2.45" fill="#a01840" opacity="0.85" transform="rotate(24 742.43 390.48)"/>
<ellipse cx="777.09" cy="437.82" rx="6.06" ry="4.35" fill="#b030b8" opacity="0.85" transform="rotate(49 777.09 437.82)"/>
<ellipse cx="738.79" cy="408.45" rx="7.13" ry="3.99" fill="#c048d0" opacity="0.85" transform="rotate(68 738.79 408.45)"/>
<ellipse cx="779.84" cy="425.28" rx="4.76" ry="1.72" fill="#c850c8" opacity="0.85" transform="rotate(5 779.84 425.28)"/>
<ellipse cx="821.12" cy="377.35" rx="5.35" ry="2.43" fill="#c048d0" opacity="0.85" transform="rotate(142 821.12 377.35)"/>
<ellipse cx="721.24" cy="384.53" rx="3.45" ry="3.81" fill="#b01c40" opacity="0.85" transform="rotate(47 721.24 384.53)"/>
<ellipse cx="810.17" cy="434.76" rx="4.73" ry="3.39" fill="#9a28a8" opacity="0.85" transform="rotate(117 810.17 434.76)"/>
<ellipse cx="813.46" cy="447.04" rx="3.5" ry="2.93" fill="#a01840" opacity="0.85" transform="rotate(32 813.46 447.04)"/>
<ellipse cx="720.26" cy="410.09" rx="3.4" ry="2.32" fill="#b030b8" opacity="0.85" transform="rotate(62 720.26 410.09)"/>
<ellipse cx="800.59" cy="413.75" rx="7.48" ry="1.98" fill="#c850c8" opacity="0.85" transform="rotate(152 800.59 413.75)"/>
<ellipse cx="800.88" cy="391.22" rx="7.16" ry="3.67" fill="#d040c0" opacity="0.85" transform="rotate(23 800.88 391.22)"/>
<ellipse cx="772.06" cy="421.74" rx="4.38" ry="3.21" fill="#b030b8" opacity="0.85" transform="rotate(158 772.06 421.74)"/>
<ellipse cx="812.22" cy="445.96" rx="4.13" ry="4.45" fill="#b01c40" opacity="0.85" transform="rotate(17 812.22 445.96)"/>
<ellipse cx="820.34" cy="434.87" rx="3.57" ry="4.2" fill="#9a28a8" opacity="0.85" transform="rotate(176 820.34 434.87)"/>
<ellipse cx="833.35" cy="415.01" rx="3.81" ry="3.65" fill="#7a1c8a" opacity="0.85" transform="rotate(2 833.35 415.01)"/>
<ellipse cx="778.05" cy="377.02" rx="5.25" ry="3.8" fill="#7a1c8a" opacity="0.85" transform="rotate(87 778.05 377.02)"/>
<ellipse cx="722.32" cy="435.69" rx="4.64" ry="1.61" fill="#9a28a8" opacity="0.85" transform="rotate(95 722.32 435.69)"/>
<ellipse cx="799.33" cy="443.82" rx="3.24" ry="3.05" fill="#b01c40" opacity="0.85" transform="rotate(130 799.33 443.82)"/>
<ellipse cx="817.28" cy="426.59" rx="5.39" ry="3.57" fill="#b01c40" opacity="0.85" transform="rotate(136 817.28 426.59)"/>
<ellipse cx="770.41" cy="416.67" rx="5.69" ry="3.07" fill="#8a1238" opacity="0.85" transform="rotate(151 770.41 416.67)"/>
<ellipse cx="784.52" cy="397.89" rx="7.27" ry="4.11" fill="#d040c0" opacity="0.85" transform="rotate(109 784.52 397.89)"/>
<ellipse cx="754.62" cy="384.93" rx="5.12" ry="3.22" fill="#8a1238" opacity="0.85" transform="rotate(36 754.62 384.93)"/>
<ellipse cx="781.7" cy="412.44" rx="4.39" ry="3.11" fill="#c850c8" opacity="0.85" transform="rotate(7 781.7 412.44)"/>
<ellipse cx="826.33" cy="415.54" rx="3.11" ry="1.78" fill="#c850c8" opacity="0.85" transform="rotate(30 826.33 415.54)"/>
<ellipse cx="827.91" cy="409.08" rx="3.85" ry="2.92" fill="#d040c0" opacity="0.85" transform="rotate(22 827.91 409.08)"/>
<ellipse cx="769.74" cy="436.19" rx="5.12" ry="1.83" fill="#b01c40" opacity="0.85" transform="rotate(75 769.74 436.19)"/>
<ellipse cx="722.44" cy="393.98" rx="2.68" ry="1.97" fill="#b030b8" opacity="0.85" transform="rotate(2 722.44 393.98)"/>
<ellipse cx="752.24" cy="429.19" rx="5.6" ry="1.81" fill="#a01840" opacity="0.85" transform="rotate(131 752.24 429.19)"/>
<ellipse cx="733.37" cy="413" rx="6.09" ry="3.6" fill="#c048d0" opacity="0.85" transform="rotate(158 733.37 413)"/>
<ellipse cx="721.72" cy="422.31" rx="5.58" ry="3.11" fill="#8a1238" opacity="0.85" transform="rotate(155 721.72 422.31)"/>
<ellipse cx="781.48" cy="390.79" rx="6.76" ry="3.34" fill="#a01840" opacity="0.85" transform="rotate(154 781.48 390.79)"/>
<ellipse cx="746.22" cy="430.5" rx="7.01" ry="2.45" fill="#7a1c8a" opacity="0.85" transform="rotate(56 746.22 430.5)"/>
<ellipse cx="826.96" cy="390.78" rx="6.94" ry="1.9" fill="#a01840" opacity="0.85" transform="rotate(43 826.96 390.78)"/>
<ellipse cx="804.01" cy="393.92" rx="4.67" ry="4.32" fill="#9a28a8" opacity="0.85" transform="rotate(97 804.01 393.92)"/>
<ellipse cx="801.47" cy="389.45" rx="2.98" ry="3.21" fill="#b030b8" opacity="0.85" transform="rotate(64 801.47 389.45)"/>
<ellipse cx="815.05" cy="401.66" rx="5.67" ry="2.53" fill="#8a1238" opacity="0.85" transform="rotate(179 815.05 401.66)"/>
<ellipse cx="816.46" cy="435.22" rx="3.03" ry="1.61" fill="#b01c40" opacity="0.85" transform="rotate(99 816.46 435.22)"/>
<ellipse cx="779.23" cy="417.42" rx="3.45" ry="1.84" fill="#b81c58" opacity="0.85" transform="rotate(31 779.23 417.42)"/>
<ellipse cx="737.49" cy="395.72" rx="5.4" ry="1.9" fill="#9a28a8" opacity="0.85" transform="rotate(122 737.49 395.72)"/>
<ellipse cx="728.08" cy="381.55" rx="4.83" ry="3.05" fill="#d040c0" opacity="0.85" transform="rotate(77 728.08 381.55)"/>
<ellipse cx="789.31" cy="375.21" rx="6.72" ry="2.04" fill="#b030b8" opacity="0.85" transform="rotate(81 789.31 375.21)"/>
<ellipse cx="805.5" cy="405" rx="5.52" ry="1.78" fill="#a01840" opacity="0.85" transform="rotate(142 805.5 405)"/>
<ellipse cx="756.87" cy="380.65" rx="5.35" ry="2.07" fill="#d040c0" opacity="0.85" transform="rotate(105 756.87 380.65)"/>
<ellipse cx="758.89" cy="432.14" rx="7.06" ry="3.73" fill="#c048d0" opacity="0.85" transform="rotate(140 758.89 432.14)"/>
<ellipse cx="814.31" cy="405.03" rx="6.9" ry="3.58" fill="#7a1c8a" opacity="0.85" transform="rotate(138 814.31 405.03)"/>
<ellipse cx="808.53" cy="405.04" rx="2.85" ry="2.53" fill="#b81c58" opacity="0.85" transform="rotate(84 808.53 405.04)"/>
<ellipse cx="720.24" cy="401.23" rx="2.75" ry="2.32" fill="#c850c8" opacity="0.85" transform="rotate(173 720.24 401.23)"/>
<ellipse cx="753.97" cy="390.62" rx="5.35" ry="3.1" fill="#d040c0" opacity="0.85" transform="rotate(70 753.97 390.62)"/>
<ellipse cx="835.99" cy="423.01" rx="6.31" ry="4.44" fill="#9a28a8" opacity="0.85" transform="rotate(4 835.99 423.01)"/>
<ellipse cx="791" cy="430.35" rx="4.72" ry="3.01" fill="#c048d0" opacity="0.85" transform="rotate(137 791 430.35)"/>
<ellipse cx="794.82" cy="375.02" rx="3.75" ry="4.22" fill="#c048d0" opacity="0.85" transform="rotate(99 794.82 375.02)"/>
<ellipse cx="778.41" cy="447.7" rx="6.73" ry="1.8" fill="#c850c8" opacity="0.85" transform="rotate(79 778.41 447.7)"/>
<ellipse cx="766.27" cy="430.1" rx="4.84" ry="10.68" fill="#040108" transform="rotate(-20 766.27 430.1)"/>
<ellipse cx="742.76" cy="413.01" rx="1.99" ry="4.84" fill="#040108" transform="rotate(0 742.76 413.01)"/>
<ellipse cx="731.37" cy="401.61" rx="2.85" ry="1.99" fill="#040108" transform="rotate(0 731.37 401.61)"/>
<ellipse cx="778.38" cy="381.67" rx="2.56" ry="3.7" fill="#040108" transform="rotate(0 778.38 381.67)"/>
<ellipse cx="809.72" cy="401.61" rx="5.7" ry="1.42" fill="#040108" transform="rotate(-25 809.72 401.61)"/>
<ellipse cx="757.01" cy="440.07" rx="2.56" ry="3.7" fill="#040108" transform="rotate(0 757.01 440.07)"/>
<ellipse cx="722.82" cy="378.82" rx="5.13" ry="1.99" fill="#040108" transform="rotate(0 722.82 378.82)"/>
<ellipse cx="789.77" cy="408.74" rx="2.85" ry="1.14" fill="#040108" transform="rotate(20 789.77 408.74)"/>
<ellipse cx="822.54" cy="425.83" rx="1.42" ry="3.42" fill="#040108" transform="rotate(0 822.54 425.83)"/>
<ellipse cx="835.36" cy="378.82" rx="5.13" ry="2.28" fill="#040108" transform="rotate(0 835.36 378.82)"/>
</g><g filter="url(#b1)">
<path d="M794.42,415.96q-2.89,6.36 -9.78,16.73" stroke="#c848d0" stroke-width="1.64" fill="none" opacity="0.85"/>
<path d="M737.71,410.05q7.58,1.28 11.15,6.55" stroke="#e878e0" stroke-width="1.34" fill="none" opacity="0.85"/>
<path d="M769.26,411.78q5.63,2.51 7.26,9.02" stroke="#f090f0" stroke-width="1.13" fill="none" opacity="0.85"/>
<path d="M752.43,423.99q1.06,2.89 -1.89,9.79" stroke="#f090f0" stroke-width="0.82" fill="none" opacity="0.85"/>
<path d="M809.38,418.72q-0.38,3.36 -4.76,10.71" stroke="#c848d0" stroke-width="0.85" fill="none" opacity="0.85"/>
<path d="M755.87,404.43q-0.05,5.8 -4.1,15.59" stroke="#f090f0" stroke-width="0.87" fill="none" opacity="0.85"/>
<path d="M824.95,406.84q2.69,7.79 1.38,19.58" stroke="#d850d8" stroke-width="0.84" fill="none" opacity="0.85"/>
<path d="M730.52,435.77q-1.85,-0.87 -7.7,2.25" stroke="#d850d8" stroke-width="1.34" fill="none" opacity="0.85"/>
<path d="M732.47,421.64q2.61,2.38 1.23,8.77" stroke="#e060e8" stroke-width="1.12" fill="none" opacity="0.85"/>
<path d="M737.1,401.81q7.36,0.52 10.71,5.03" stroke="#e878e0" stroke-width="1.04" fill="none" opacity="0.85"/>
<path d="M787.12,406.08q-3.15,2.31 -10.29,8.63" stroke="#d850d8" stroke-width="1.66" fill="none" opacity="0.85"/>
<path d="M804.91,392.32q10.66,1.24 17.33,6.48" stroke="#e878e0" stroke-width="1.36" fill="none" opacity="0.85"/>
<path d="M761.02,394.83q-1.82,3.81 -7.64,11.62" stroke="#e878e0" stroke-width="0.97" fill="none" opacity="0.85"/>
<path d="M751.6,392.4q-4.44,-1.02 -12.88,1.96" stroke="#d850d8" stroke-width="1.59" fill="none" opacity="0.85"/>
<path d="M723.62,378.82q5.94,2.49 7.88,8.99" stroke="#e878e0" stroke-width="0.83" fill="none" opacity="0.85"/>
<path d="M745.04,395.35q-4.76,4.52 -13.52,13.04" stroke="#d850d8" stroke-width="1.3" fill="none" opacity="0.85"/>
<path d="M792.84,402.56q2.3,2.46 0.6,8.93" stroke="#f090f0" stroke-width="1.24" fill="none" opacity="0.85"/>
<path d="M734.6,440.29q-2.99,1.57 -9.97,7.14" stroke="#e878e0" stroke-width="1.55" fill="none" opacity="0.85"/>
<path d="M808.97,407.97q-2.02,2.09 -8.04,8.17" stroke="#d850d8" stroke-width="1.13" fill="none" opacity="0.85"/>
<path d="M795.48,449.38q5.57,3.84 7.13,11.67" stroke="#d850d8" stroke-width="1.18" fill="none" opacity="0.85"/>
<path d="M762.2,381.57q-1.28,-0.64 -6.56,2.71" stroke="#e060e8" stroke-width="1.19" fill="none" opacity="0.85"/>
<path d="M785.45,436.16q3,6.71 2,17.41" stroke="#e060e8" stroke-width="0.87" fill="none" opacity="0.85"/>
<path d="M743.95,424.52q6.96,-0.7 9.92,2.6" stroke="#f090f0" stroke-width="1.05" fill="none" opacity="0.85"/>
<path d="M735.72,401.39q-1.63,2.22 -7.25,8.44" stroke="#e060e8" stroke-width="1.09" fill="none" opacity="0.85"/>
<path d="M770.59,419.4q-5.45,0.36 -14.89,4.71" stroke="#f090f0" stroke-width="1.19" fill="none" opacity="0.85"/>
<path d="M812.96,397.36q5.14,2.87 6.29,9.74" stroke="#e878e0" stroke-width="1.02" fill="none" opacity="0.85"/>
<path d="M761.32,401.98q4.4,3.25 4.8,10.49" stroke="#c848d0" stroke-width="1.52" fill="none" opacity="0.85"/>
<path d="M805.44,402.19q3.38,1.84 2.76,7.69" stroke="#e878e0" stroke-width="1.31" fill="none" opacity="0.85"/>
<path d="M739.66,431.88q-2.63,-0.18 -9.25,3.63" stroke="#e060e8" stroke-width="1" fill="none" opacity="0.85"/>
<path d="M725.75,386.26q3.89,0.53 3.78,5.06" stroke="#c848d0" stroke-width="0.86" fill="none" opacity="0.85"/>
<path d="M782.98,434.09q5.45,-1.07 6.9,1.86" stroke="#e060e8" stroke-width="1.61" fill="none" opacity="0.85"/>
<path d="M728.91,422.39q9.39,1.59 14.79,7.18" stroke="#c848d0" stroke-width="1.02" fill="none" opacity="0.85"/>
<path d="M744.79,432.37q1.43,6.33 -1.13,16.67" stroke="#c848d0" stroke-width="1.12" fill="none" opacity="0.85"/>
<path d="M813.45,399.51q7.83,0.67 11.67,5.34" stroke="#e060e8" stroke-width="1.44" fill="none" opacity="0.85"/>
<path d="M826.05,405.41q-4.55,1.98 -13.11,7.96" stroke="#e060e8" stroke-width="1.53" fill="none" opacity="0.85"/>
<path d="M816.56,441.74q-5.42,-1.01 -14.83,1.98" stroke="#e878e0" stroke-width="1.13" fill="none" opacity="0.85"/>
<path d="M720.19,382.55q-7.14,0.24 -18.28,4.48" stroke="#d850d8" stroke-width="1.47" fill="none" opacity="0.85"/>
<path d="M834.95,402.74q5.83,0.23 7.66,4.45" stroke="#c848d0" stroke-width="1.28" fill="none" opacity="0.85"/>
<path d="M751.06,441.54q2.73,6.08 1.45,16.17" stroke="#f090f0" stroke-width="1.38" fill="none" opacity="0.85"/>
<path d="M809.78,387.84q8.09,-0.79 12.19,2.42" stroke="#e878e0" stroke-width="1.23" fill="none" opacity="0.85"/>
<path d="M812.65,397.95q6.49,1.21 8.97,6.42" stroke="#e878e0" stroke-width="1.01" fill="none" opacity="0.85"/>
<path d="M802.92,419.4q5.27,0.78 6.55,5.56" stroke="#f090f0" stroke-width="1.16" fill="none" opacity="0.85"/>
<path d="M825.55,445.44q-1.72,6.84 -7.44,17.69" stroke="#e878e0" stroke-width="1.23" fill="none" opacity="0.85"/>
<path d="M749.47,441.64q-3.2,-0.56 -10.4,2.87" stroke="#e878e0" stroke-width="1.49" fill="none" opacity="0.85"/>
<path d="M729.81,439.76q3.41,2.3 2.81,8.6" stroke="#d850d8" stroke-width="1.52" fill="none" opacity="0.85"/>
<path d="M764.04,414.3q1.76,2.92 -0.49,9.83" stroke="#e060e8" stroke-width="1.39" fill="none" opacity="0.85"/>
<path d="M746.8,375.03q2.48,3.58 0.96,11.16" stroke="#d850d8" stroke-width="1.44" fill="none" opacity="0.85"/>
<path d="M789.91,386.15q6.63,0.49 9.25,4.97" stroke="#f090f0" stroke-width="1.62" fill="none" opacity="0.85"/>
<path d="M813.77,384.16q-3.05,3.32 -10.1,10.64" stroke="#e878e0" stroke-width="1.28" fill="none" opacity="0.85"/>
<path d="M736.63,432.75q10.75,-1.96 17.5,0.08" stroke="#d850d8" stroke-width="1.54" fill="none" opacity="0.85"/>
<path d="M728.64,394.71q-0.31,0.86 -4.63,5.72" stroke="#c848d0" stroke-width="1.42" fill="none" opacity="0.85"/>
<path d="M728.69,431.09q1.11,4.48 -1.78,12.96" stroke="#e060e8" stroke-width="1.51" fill="none" opacity="0.85"/>
<path d="M767.79,443.87q10.43,0.48 16.86,4.95" stroke="#d850d8" stroke-width="0.83" fill="none" opacity="0.85"/>
<path d="M767.34,411.76q-7.61,-0.37 -19.22,3.26" stroke="#f090f0" stroke-width="1.08" fill="none" opacity="0.85"/>
<path d="M727.89,397.43q2.82,5.96 1.65,15.93" stroke="#f090f0" stroke-width="0.87" fill="none" opacity="0.85"/>
<path d="M735.44,424.94q-2.32,5 -8.63,14.01" stroke="#e060e8" stroke-width="1.39" fill="none" opacity="0.85"/>
<path d="M720.44,402.86q-0.86,1.68 -5.72,7.37" stroke="#e878e0" stroke-width="0.9" fill="none" opacity="0.85"/>
<path d="M809.3,439.26q-5.09,1.77 -14.19,7.54" stroke="#e878e0" stroke-width="0.94" fill="none" opacity="0.85"/>
<path d="M792.45,445.45q-4.84,4.85 -13.68,13.7" stroke="#c848d0" stroke-width="1.3" fill="none" opacity="0.85"/>
<path d="M729.17,388.54q3.42,1.49 2.85,6.97" stroke="#f090f0" stroke-width="1.65" fill="none" opacity="0.85"/>
<g transform="rotate(-20 733.5 382.38)"><ellipse cx="733.5" cy="382.38" rx="6.6" ry="4.7" fill="#b4c060" opacity="0.9"/><ellipse cx="733.8" cy="382.58" rx="4.9" ry="3.3" fill="#6a9ea0"/><ellipse cx="733.9" cy="382.58" rx="4" ry="2.6" fill="#5a88bc"/></g>
<g transform="rotate(10 732.79 393.78)"><ellipse cx="732.79" cy="393.78" rx="7.39" ry="5.26" fill="#dcdca8" opacity="0.9"/><ellipse cx="733.09" cy="393.98" rx="5.49" ry="3.7" fill="#6a9ea0"/><ellipse cx="733.19" cy="393.98" rx="4.48" ry="2.91" fill="#5a88bc"/></g>
<g transform="rotate(0 727.81 408.74)"><ellipse cx="727.81" cy="408.74" rx="6.27" ry="4.46" fill="#a8bc58" opacity="0.9"/><ellipse cx="728.11" cy="408.94" rx="4.66" ry="3.13" fill="#6a9ea0"/><ellipse cx="728.21" cy="408.94" rx="3.8" ry="2.47" fill="#5a88bc"/></g>
<g transform="rotate(60 747.04 413.01)"><ellipse cx="747.04" cy="413.01" rx="7.13" ry="5.08" fill="#ece8d0" opacity="0.9"/><ellipse cx="747.34" cy="413.21" rx="5.29" ry="3.56" fill="#6a9ea0"/><ellipse cx="747.44" cy="413.21" rx="4.32" ry="2.81" fill="#5a88bc"/></g>
<g transform="rotate(70 738.49 422.27)"><ellipse cx="738.49" cy="422.27" rx="6.6" ry="4.7" fill="#c0c870" opacity="0.9"/><ellipse cx="738.79" cy="422.47" rx="4.9" ry="3.3" fill="#6a9ea0"/><ellipse cx="738.89" cy="422.47" rx="4" ry="2.6" fill="#5a88bc"/></g>
<g transform="rotate(-70 752.74 437.23)"><ellipse cx="752.74" cy="437.23" rx="6.6" ry="4.7" fill="#b4c060" opacity="0.9"/><ellipse cx="753.04" cy="437.43" rx="4.9" ry="3.3" fill="#6a9ea0"/><ellipse cx="753.14" cy="437.43" rx="4" ry="2.6" fill="#5a88bc"/></g>
<g transform="rotate(0 724.25 443.64)"><ellipse cx="724.25" cy="443.64" rx="7.39" ry="5.26" fill="#dcdca8" opacity="0.9"/><ellipse cx="724.55" cy="443.84" rx="5.49" ry="3.7" fill="#6a9ea0"/><ellipse cx="724.65" cy="443.84" rx="4.48" ry="2.91" fill="#5a88bc"/></g>
<g transform="rotate(-60 753.45 385.94)"><ellipse cx="753.45" cy="385.94" rx="6.27" ry="4.46" fill="#a8bc58" opacity="0.9"/><ellipse cx="753.75" cy="386.14" rx="4.66" ry="3.13" fill="#6a9ea0"/><ellipse cx="753.85" cy="386.14" rx="3.8" ry="2.47" fill="#5a88bc"/></g>
<g transform="rotate(-80 766.27 384.52)"><ellipse cx="766.27" cy="384.52" rx="7.13" ry="5.08" fill="#ece8d0" opacity="0.9"/><ellipse cx="766.57" cy="384.72" rx="5.29" ry="3.56" fill="#6a9ea0"/><ellipse cx="766.67" cy="384.72" rx="4.32" ry="2.81" fill="#5a88bc"/></g>
<g transform="rotate(-70 772.68 392.35)"><ellipse cx="772.68" cy="392.35" rx="6.6" ry="4.7" fill="#c0c870" opacity="0.9"/><ellipse cx="772.98" cy="392.55" rx="4.9" ry="3.3" fill="#6a9ea0"/><ellipse cx="773.08" cy="392.55" rx="4" ry="2.6" fill="#5a88bc"/></g>
<g transform="rotate(40 761.28 403.04)"><ellipse cx="761.28" cy="403.04" rx="6.6" ry="4.7" fill="#b4c060" opacity="0.9"/><ellipse cx="761.58" cy="403.24" rx="4.9" ry="3.3" fill="#6a9ea0"/><ellipse cx="761.68" cy="403.24" rx="4" ry="2.6" fill="#5a88bc"/></g>
<g transform="rotate(80 784.79 380.25)"><ellipse cx="784.79" cy="380.25" rx="7.39" ry="5.26" fill="#dcdca8" opacity="0.9"/><ellipse cx="785.09" cy="380.45" rx="5.49" ry="3.7" fill="#6a9ea0"/><ellipse cx="785.19" cy="380.45" rx="4.48" ry="2.91" fill="#5a88bc"/></g>
<g transform="rotate(10 781.23 413.01)"><ellipse cx="781.23" cy="413.01" rx="6.27" ry="4.46" fill="#a8bc58" opacity="0.9"/><ellipse cx="781.53" cy="413.21" rx="4.66" ry="3.13" fill="#6a9ea0"/><ellipse cx="781.63" cy="413.21" rx="3.8" ry="2.47" fill="#5a88bc"/></g>
<g transform="rotate(-25 795.47 398.05)"><ellipse cx="795.47" cy="398.05" rx="7.13" ry="5.08" fill="#ece8d0" opacity="0.9"/><ellipse cx="795.77" cy="398.25" rx="5.29" ry="3.56" fill="#6a9ea0"/><ellipse cx="795.87" cy="398.25" rx="4.32" ry="2.81" fill="#5a88bc"/></g>
<g transform="rotate(-30 804.02 383.09)"><ellipse cx="804.02" cy="383.09" rx="6.6" ry="4.7" fill="#c0c870" opacity="0.9"/><ellipse cx="804.32" cy="383.29" rx="4.9" ry="3.3" fill="#6a9ea0"/><ellipse cx="804.42" cy="383.29" rx="4" ry="2.6" fill="#5a88bc"/></g>
<g transform="rotate(-30 819.69 403.04)"><ellipse cx="819.69" cy="403.04" rx="6.6" ry="4.7" fill="#b4c060" opacity="0.9"/><ellipse cx="819.99" cy="403.24" rx="4.9" ry="3.3" fill="#6a9ea0"/><ellipse cx="820.09" cy="403.24" rx="4" ry="2.6" fill="#5a88bc"/></g>
<g transform="rotate(-10 829.66 388.79)"><ellipse cx="829.66" cy="388.79" rx="7.39" ry="5.26" fill="#dcdca8" opacity="0.9"/><ellipse cx="829.96" cy="388.99" rx="5.49" ry="3.7" fill="#6a9ea0"/><ellipse cx="830.06" cy="388.99" rx="4.48" ry="2.91" fill="#5a88bc"/></g>
<g transform="rotate(80 832.51 410.16)"><ellipse cx="832.51" cy="410.16" rx="6.27" ry="4.46" fill="#a8bc58" opacity="0.9"/><ellipse cx="832.81" cy="410.36" rx="4.66" ry="3.13" fill="#6a9ea0"/><ellipse cx="832.91" cy="410.36" rx="3.8" ry="2.47" fill="#5a88bc"/></g>
<g transform="rotate(20 805.44 418.71)"><ellipse cx="805.44" cy="418.71" rx="7.13" ry="5.08" fill="#ece8d0" opacity="0.9"/><ellipse cx="805.74" cy="418.91" rx="5.29" ry="3.56" fill="#6a9ea0"/><ellipse cx="805.84" cy="418.91" rx="4.32" ry="2.81" fill="#5a88bc"/></g>
<g transform="rotate(10 818.26 417.28)"><ellipse cx="818.26" cy="417.28" rx="6.6" ry="4.7" fill="#c0c870" opacity="0.9"/><ellipse cx="818.56" cy="417.48" rx="4.9" ry="3.3" fill="#6a9ea0"/><ellipse cx="818.66" cy="417.48" rx="4" ry="2.6" fill="#5a88bc"/></g>
<g transform="rotate(50 796.89 428.68)"><ellipse cx="796.89" cy="428.68" rx="6.6" ry="4.7" fill="#b4c060" opacity="0.9"/><ellipse cx="797.19" cy="428.88" rx="4.9" ry="3.3" fill="#6a9ea0"/><ellipse cx="797.29" cy="428.88" rx="4" ry="2.6" fill="#5a88bc"/></g>
<g transform="rotate(30 811.14 431.53)"><ellipse cx="811.14" cy="431.53" rx="7.39" ry="5.26" fill="#dcdca8" opacity="0.9"/><ellipse cx="811.44" cy="431.73" rx="5.49" ry="3.7" fill="#6a9ea0"/><ellipse cx="811.54" cy="431.73" rx="4.48" ry="2.91" fill="#5a88bc"/></g>
<g transform="rotate(0 790.48 442.92)"><ellipse cx="790.48" cy="442.92" rx="6.27" ry="4.46" fill="#a8bc58" opacity="0.9"/><ellipse cx="790.78" cy="443.12" rx="4.66" ry="3.13" fill="#6a9ea0"/><ellipse cx="790.88" cy="443.12" rx="3.8" ry="2.47" fill="#5a88bc"/></g>
<g transform="rotate(30 828.23 442.92)"><ellipse cx="828.23" cy="442.92" rx="7.13" ry="5.08" fill="#ece8d0" opacity="0.9"/><ellipse cx="828.53" cy="443.12" rx="5.29" ry="3.56" fill="#6a9ea0"/><ellipse cx="828.63" cy="443.12" rx="4.32" ry="2.81" fill="#5a88bc"/></g>
<g transform="rotate(90 832.51 427.25)"><ellipse cx="832.51" cy="427.25" rx="6.6" ry="4.7" fill="#c0c870" opacity="0.9"/><ellipse cx="832.81" cy="427.45" rx="4.9" ry="3.3" fill="#6a9ea0"/><ellipse cx="832.91" cy="427.45" rx="4" ry="2.6" fill="#5a88bc"/></g>
<g transform="rotate(0 816.13 446.48)"><ellipse cx="816.13" cy="446.48" rx="6.6" ry="4.7" fill="#b4c060" opacity="0.9"/><ellipse cx="816.43" cy="446.68" rx="4.9" ry="3.3" fill="#6a9ea0"/><ellipse cx="816.53" cy="446.68" rx="4" ry="2.6" fill="#5a88bc"/></g>
<g transform="rotate(30 723.53 432.95)"><ellipse cx="723.53" cy="432.95" rx="7.39" ry="5.26" fill="#dcdca8" opacity="0.9"/><ellipse cx="723.83" cy="433.15" rx="5.49" ry="3.7" fill="#6a9ea0"/><ellipse cx="723.93" cy="433.15" rx="4.48" ry="2.91" fill="#5a88bc"/></g>
<path d="M769.1,420.68q6,-1 8,5q5,3 4,9q-4,3 -7,-3q-5,-4 -5,-11z" fill="#fff"/>
</g><g filter="url(#b05)">
<path d="M783.13,400.48q-2.88,0.59 -9.75,5.17" stroke="#d860d8" stroke-width="0.8" fill="none" opacity="0.8"/>
<path d="M721.18,376.66q-5.16,1.72 -14.31,7.44" stroke="#d860d8" stroke-width="0.64" fill="none" opacity="0.8"/>
<path d="M777.25,443.93q0.76,7.27 -2.48,18.54" stroke="#f0a0f0" stroke-width="0.82" fill="none" opacity="0.8"/>
<path d="M738.94,407.18q4.58,6.67 5.16,17.35" stroke="#f0a0f0" stroke-width="0.87" fill="none" opacity="0.8"/>
<path d="M768.42,395.35q-4.54,4.52 -13.07,13.03" stroke="#f4b8f0" stroke-width="0.86" fill="none" opacity="0.8"/>
<path d="M807.02,431.71q-0.17,5.72 -4.33,15.44" stroke="#f4b8f0" stroke-width="1.01" fill="none" opacity="0.8"/>
<path d="M818.27,442.24q-4.46,5.28 -12.91,14.55" stroke="#f0a0f0" stroke-width="0.73" fill="none" opacity="0.8"/>
<path d="M799.56,435.15q1.24,2.58 -1.51,9.16" stroke="#f4b8f0" stroke-width="0.83" fill="none" opacity="0.8"/>
<path d="M828.43,424.31q7.13,6.14 10.26,16.29" stroke="#f0a0f0" stroke-width="0.94" fill="none" opacity="0.8"/>
<path d="M720.78,431.58q4.01,4.08 4.01,12.16" stroke="#f0a0f0" stroke-width="0.82" fill="none" opacity="0.8"/>
<path d="M752.96,374.92q-1.53,-0.5 -7.06,3.01" stroke="#e878e8" stroke-width="0.98" fill="none" opacity="0.8"/>
<path d="M755.02,374.76q-1.78,6.91 -7.57,17.81" stroke="#e878e8" stroke-width="0.86" fill="none" opacity="0.8"/>
<path d="M719.98,387.45q2.81,3.05 1.63,10.1" stroke="#e878e8" stroke-width="0.97" fill="none" opacity="0.8"/>
<path d="M749.08,375.9q9.11,3 14.23,10" stroke="#e878e8" stroke-width="0.92" fill="none" opacity="0.8"/>
<path d="M763.27,391.17q9.69,3.71 15.38,11.42" stroke="#f0a0f0" stroke-width="1.07" fill="none" opacity="0.8"/>
<path d="M745.55,436.84q6.31,-1.99 8.61,0.03" stroke="#d860d8" stroke-width="0.76" fill="none" opacity="0.8"/>
<path d="M799.17,433.78q7.67,-1 11.33,2" stroke="#d860d8" stroke-width="0.89" fill="none" opacity="0.8"/>
<path d="M738.11,405.17q5.61,-0.62 7.23,2.76" stroke="#f4b8f0" stroke-width="0.85" fill="none" opacity="0.8"/>
<path d="M823.71,424.22q3.55,2.28 3.1,8.56" stroke="#d860d8" stroke-width="0.91" fill="none" opacity="0.8"/>
<path d="M766.24,413.23q6.71,-0.69 9.42,2.61" stroke="#f4b8f0" stroke-width="1.06" fill="none" opacity="0.8"/>
<path d="M770.82,391.08q9.38,4.67 14.76,13.35" stroke="#f0a0f0" stroke-width="1.03" fill="none" opacity="0.8"/>
<path d="M778.97,400.03q10.65,3.34 17.31,10.67" stroke="#f4b8f0" stroke-width="0.63" fill="none" opacity="0.8"/>
<path d="M783.2,448.03q2.65,3.65 1.29,11.29" stroke="#e878e8" stroke-width="1.06" fill="none" opacity="0.8"/>
<path d="M746.18,390.84q9.83,3.35 15.67,10.7" stroke="#f0a0f0" stroke-width="0.96" fill="none" opacity="0.8"/>
<path d="M731.54,393.23q-1.46,-1.17 -6.93,1.66" stroke="#d860d8" stroke-width="0.69" fill="none" opacity="0.8"/>
<path d="M815.22,407.09q-3.14,-0.92 -10.28,2.15" stroke="#d860d8" stroke-width="0.76" fill="none" opacity="0.8"/>
<path d="M773.01,390.13q6.34,-0.38 8.69,3.25" stroke="#e878e8" stroke-width="0.93" fill="none" opacity="0.8"/>
<path d="M727.53,435.66q11.22,1.11 18.45,6.21" stroke="#f0a0f0" stroke-width="0.66" fill="none" opacity="0.8"/>
<path d="M751.21,442.06q-2.3,2.28 -8.6,8.57" stroke="#d860d8" stroke-width="0.97" fill="none" opacity="0.8"/>
<path d="M752.53,382.29q-5.01,2.73 -14.02,9.46" stroke="#f4b8f0" stroke-width="0.78" fill="none" opacity="0.8"/>
<path d="M795.57,402.08q-2.17,-0.7 -8.34,2.61" stroke="#d860d8" stroke-width="0.67" fill="none" opacity="0.8"/>
<path d="M780.72,427.62q1.8,4.59 -0.4,13.18" stroke="#d860d8" stroke-width="1.08" fill="none" opacity="0.8"/>
<path d="M808.9,427.86q5.95,1.05 7.89,6.1" stroke="#f4b8f0" stroke-width="0.79" fill="none" opacity="0.8"/>
<path d="M779.1,437.2q10.13,3.96 16.26,11.93" stroke="#f4b8f0" stroke-width="0.96" fill="none" opacity="0.8"/>
</g></g>
<rect x="719.7" y="374.9" width="115.4" height="74.1" fill="none" stroke="#000" stroke-width="1.4"/>
<g clip-path="url(#chm)"><g filter="url(#b05)">
<rect x="957.5" y="366.8" width="122.8" height="80.2" fill="#d3e2ee"/>
<rect x="957" y="366" width="21.7" height="32" fill="#c6d8ee"/>
<rect x="978.7" y="366" width="58" height="30" fill="#e4e3e9"/>
<rect x="978.7" y="425" width="58" height="22" fill="#dfe3ea"/>
<rect x="957" y="420" width="21.7" height="27" fill="#e0e1e8"/>
<rect x="1036.7" y="366" width="44" height="25.4" fill="#b43c44"/>
<rect x="1036.7" y="407.8" width="44" height="8" fill="#efb4a8"/>
<rect x="1036.7" y="416" width="44" height="12" fill="#dfe3ec"/>
<rect x="957" y="407.8" width="79.7" height="8" fill="#c2d2ea"/>
<path d="M963,407.8v8M970,407.8v8M971.4,407.8v8M975.6,407.8v8M977,407.8v8M978.4,407.8v8M979.8,407.8v8M981.2,407.8v8M982.6,407.8v8M986.8,407.8v8M993.8,407.8v8M999.4,407.8v8M1000.8,407.8v8M1009.2,407.8v8M1012,407.8v8M1017.6,407.8v8M1026,407.8v8M1035.8,407.8v8" stroke="#8fa3d8" stroke-width="1.1" opacity="0.7"/>
<path d="M968.6,428.01V445M970,433.89V445M972.8,433.65V445M975.6,428.87V445M984,428.28V445M988.2,432.49V445M989.6,433.67V445M993.8,428.89V445M995.2,428.29V445M999.4,433.5V445M1012,429.63V445M1031.6,432.68V445M1035.8,430.65V445" stroke="#a9a2ae" stroke-width="1" opacity="0.7"/>
<path d="M964.4,374.69v7.45M965.8,372.17v7.91M967.2,377.97v5.94M975.6,373.01v12.44M981.2,377.5v15.83M984,379.55v6.75M989.6,373.41v12.55M999.4,374.94v15.74M1002.2,374.35v6.09M1020.4,375.47v7.51M1028.8,378.37v17.12" stroke="#f0cfc4" stroke-width="1.1" opacity="0.7"/>
<path d="M1037.4,381.35v4.52M1038.7,373.07v2.22M1040,372.27v2.77M1041.3,375.85v4.45M1042.6,385.26v2M1043.9,376.38v2.46M1045.2,369.65v4.45M1046.5,375.11v4.32M1050.4,371.56v4.38M1055.6,379.18v4.46M1058.2,376.77v2.91M1062.1,373.68v5.92M1063.4,374.74v5.94M1064.7,377.58v2.49M1066,374.28v5.13M1067.3,378.59v3.1M1069.9,371.79v5.96M1076.4,375.05v3.19M1077.7,375.5v4.98" stroke="#d8707a" stroke-width="1.1" opacity="0.7"/>
<path d="M1037.4,408v7.6M1038.7,408v7.6M1040,408v7.6M1042.6,408v7.6M1045.2,408v7.6M1047.8,408v7.6M1053,408v7.6M1054.3,408v7.6M1055.6,408v7.6M1058.2,408v7.6M1059.5,408v7.6M1062.1,408v7.6M1063.4,408v7.6M1068.6,408v7.6M1069.9,408v7.6M1071.2,408v7.6M1073.8,408v7.6M1075.1,408v7.6" stroke="#d88878" stroke-width="1" opacity="0.6"/>
<path d="M1037,376h41M1037,384.5h41" stroke="#cc6a72" stroke-width="1.2" opacity="0.6"/>
</g><path d="M978.7,369V445M1036.7,369V445" stroke="#6f7686" stroke-width="0.8"/>
</g>
<rect x="960.2" y="369.5" width="117.4" height="74.8" fill="none" stroke="#14161c" stroke-width="1.4"/>
<g clip-path="url(#csp)">
<rect x="845.4" y="473.8" width="102.5" height="58" fill="#fff"/>
<g filter="url(#b05)">
<path d="M849.11,503.47C849.31,498.4 850.48,493.13 852.39,488.25C854.31,483.37 853.17,477.12 860.59,474.2C868.01,471.27 885.38,470.88 896.89,470.68C908.4,470.49 922.16,471.07 929.68,473.03C937.19,474.98 940.41,478.49 941.97,482.39C943.53,486.3 939.34,491.37 939.04,496.44C938.75,501.52 940.61,506.98 940.22,512.84C939.83,518.69 944.31,528.06 936.7,531.57C929.09,535.09 907.62,533.72 894.55,533.92C881.47,534.11 865.47,535.28 858.25,532.74C851.03,530.21 852.74,523.57 851.22,518.69C849.7,513.81 848.92,508.54 849.11,503.47Z" fill="#c9c2e8"/>
<path d="M862.35,504.64C863.22,499.76 863.81,494.3 865.86,489.42C867.91,484.54 870.25,478.1 874.64,475.37C879.03,472.64 884.99,473.22 892.21,473.03C899.43,472.83 910.16,473.81 917.97,474.2C925.77,474.59 935.34,472.83 939.04,475.37C942.75,477.9 943.73,487.08 940.22,489.42C936.7,491.76 926.55,489.42 917.97,489.42C909.38,489.42 896.5,486.88 888.69,489.42C880.89,491.96 874.74,499.18 871.13,504.64C867.52,510.11 867.23,517.52 867.03,522.21C866.84,526.89 870.93,531.18 869.96,532.74C868.98,534.31 862.74,533.92 861.18,531.57C859.61,529.23 860.4,523.18 860.59,518.69C860.79,514.2 861.47,509.52 862.35,504.64Z" fill="#c5ccbb"/>
<path d="M869.37,512.84C869.08,509.52 870.64,504.93 872.89,501.13C875.13,497.32 880.01,492.25 882.84,490C885.67,487.76 888.5,486.59 889.86,487.66C891.23,488.74 891.82,493.62 891.04,496.44C890.25,499.27 886.55,501.91 885.18,504.64C883.81,507.37 882.84,509.52 882.84,512.84C882.84,516.16 885.18,521.72 885.18,524.55C885.18,527.38 884.59,530.4 882.84,529.82C881.08,529.23 876.89,523.86 874.64,521.04C872.4,518.21 869.67,516.16 869.37,512.84Z" fill="#f08b7c"/>
<path d="M882.84,512.84C882.84,509.33 884.99,504.64 886.35,501.13C887.72,497.62 888.89,493.91 891.04,491.76C893.18,489.61 896.69,488.05 899.23,488.25C901.77,488.44 905.87,490.79 906.26,492.93C906.65,495.08 902.74,497.81 901.57,501.13C900.4,504.45 898.45,508.94 899.23,512.84C900.01,516.74 904.31,521.43 906.26,524.55C908.21,527.67 912.5,530.4 910.94,531.57C909.38,532.74 900.99,533.14 896.89,531.57C892.79,530.01 888.69,525.33 886.35,522.21C884.01,519.08 882.84,516.35 882.84,512.84Z" fill="#b581d8"/>
<path d="M899.23,504.64C899.82,501.32 901.18,497.42 903.92,495.27C906.65,493.13 911.33,491.76 915.63,491.76C919.92,491.76 925.77,493.32 929.68,495.27C933.58,497.23 937.29,500.15 939.04,503.47C940.8,506.79 940.61,510.89 940.22,515.18C939.83,519.47 940.41,526.5 936.7,529.23C932.99,531.96 923.04,532.35 917.97,531.57C912.89,530.79 909.19,527.28 906.26,524.55C903.33,521.82 901.57,518.5 900.4,515.18C899.23,511.86 898.65,507.96 899.23,504.64Z" fill="#7e90da"/>
<path d="M884.01,523.38C884.59,521.82 886.94,521.62 888.69,522.21C890.45,522.79 893.38,525.33 894.55,526.89C895.72,528.45 897.28,530.79 895.72,531.57C894.16,532.35 887.13,532.94 885.18,531.57C883.23,530.21 883.42,524.94 884.01,523.38Z" fill="#8fb083"/>
<path d="M929.68,495.27C929.87,493.71 932.8,492.54 934.36,492.93C935.92,493.32 938.26,495.86 939.04,497.62C939.83,499.37 940.02,502.69 939.04,503.47C938.07,504.25 934.75,503.67 933.19,502.3C931.63,500.93 929.48,496.84 929.68,495.27Z" fill="#8fb083"/>
<path d="M910.94,526.89C911.92,525.52 915.63,524.35 917.97,524.55C920.31,524.74 921.87,527.28 924.99,528.06C928.12,528.84 934.75,528.45 936.7,529.23C938.65,530.01 940.8,532.16 936.7,532.74C932.6,533.33 916.41,533.72 912.11,532.74C907.82,531.77 909.97,528.26 910.94,526.89Z" fill="#8fa0a8"/>
<path d="M893.38,476.54C896.5,475.07 899.43,474.39 901.57,474.78C903.72,475.17 906.65,477.42 906.26,478.88C905.87,480.34 901.77,482.59 899.23,483.56C896.69,484.54 894.16,483.76 891.04,484.74C887.91,485.71 881.86,489.61 880.5,489.42C879.13,489.22 880.69,485.71 882.84,483.56C884.99,481.42 890.25,478 893.38,476.54Z" fill="#b888dc"/>
<path d="M927.33,476.54C927.92,475.17 933.09,476.73 935.53,477.71C937.97,478.69 941.39,480.83 941.97,482.39C942.56,483.95 940.7,486.49 939.04,487.08C937.39,487.66 933.97,487.66 932.02,485.91C930.07,484.15 926.75,477.9 927.33,476.54Z" fill="#b888dc"/>
</g>
<circle cx="896.3" cy="483.56" r="1.4" fill="#d9476a"/>
<circle cx="899.82" cy="481.81" r="1.4" fill="#d9476a"/>
<circle cx="903.33" cy="479.82" r="1.4" fill="#d9476a"/>
<circle cx="906.84" cy="478.06" r="1.4" fill="#d9476a"/>
<circle cx="910.36" cy="476.89" r="1.4" fill="#d9476a"/>
<circle cx="913.87" cy="476.77" r="1.4" fill="#d9476a"/>
<circle cx="917.38" cy="477.71" r="1.4" fill="#d9476a"/>
<circle cx="920.89" cy="479.82" r="1.4" fill="#d9476a"/>
<circle cx="923.82" cy="481.81" r="1.4" fill="#d9476a"/>
<circle cx="926.75" cy="483.56" r="1.4" fill="#d9476a"/>
<circle cx="929.68" cy="485.32" r="1.4" fill="#d9476a"/>
<circle cx="932.6" cy="486.84" r="1.4" fill="#d9476a"/>
<circle cx="903.92" cy="488.25" r="1.4" fill="#d9476a"/>
<circle cx="907.43" cy="487.08" r="1.4" fill="#d9476a"/>
<circle cx="910.94" cy="486.49" r="1.4" fill="#d9476a"/>
<circle cx="914.45" cy="487.08" r="1.4" fill="#d9476a"/>
<circle cx="917.97" cy="488.25" r="1.4" fill="#d9476a"/>
<circle cx="921.48" cy="490" r="1.4" fill="#d9476a"/>
<circle cx="924.99" cy="491.76" r="1.4" fill="#d9476a"/>
<circle cx="928.51" cy="493.17" r="1.4" fill="#d9476a"/>
</g>
<rect x="846.15" y="474.55" width="101" height="56.5" fill="none" stroke="#000" stroke-width="1.5"/>
<path d="M1230.9,178V540.5" stroke="#000" stroke-width="5"/>
<path d="M1232,343H1352" stroke="#000" stroke-width="4.8"/>
<path d="M1374.4,343L1349,330.3L1355.8,343L1349,355.9Z" fill="#000"/>
<circle cx="1289.9" cy="344.2" r="29.9" fill="#fff" stroke="#000" stroke-width="1.6"/>
<path d="M1270.9,334.4L1289.9,324.3M1270.9,334.4L1289.9,344.2M1270.9,334.4L1289.9,364.1M1270.9,353.9L1289.9,324.3M1270.9,353.9L1289.9,344.2M1270.9,353.9L1289.9,364.1M1308.9,334.4L1289.9,324.3M1308.9,334.4L1289.9,344.2M1308.9,334.4L1289.9,364.1M1308.9,353.9L1289.9,324.3M1308.9,353.9L1289.9,344.2M1308.9,353.9L1289.9,364.1" stroke="#000" stroke-width="1.3" fill="none"/>
<circle cx="1289.9" cy="324.3" r="4.4" fill="#fff" stroke="#000" stroke-width="1.4"/>
<circle cx="1289.9" cy="364.1" r="4.4" fill="#fff" stroke="#000" stroke-width="1.4"/>
<circle cx="1289.9" cy="344.2" r="4.4" fill="#fff" stroke="#000" stroke-width="1.4"/>
<circle cx="1270.9" cy="334.4" r="4.4" fill="#fff" stroke="#000" stroke-width="1.4"/>
<circle cx="1270.9" cy="353.9" r="4.4" fill="#fff" stroke="#000" stroke-width="1.4"/>
<circle cx="1308.9" cy="334.4" r="4.4" fill="#fff" stroke="#000" stroke-width="1.4"/>
<circle cx="1308.9" cy="353.9" r="4.4" fill="#fff" stroke="#000" stroke-width="1.4"/>
<path d="M1635.95,173.18C1637.69,172.13 1639.85,171.87 1641.94,171.59C1644.04,171.3 1646.4,171.51 1648.54,171.49C1650.68,171.46 1652.74,171.54 1654.79,171.44C1656.84,171.35 1658.78,171.04 1660.85,170.9C1662.93,170.76 1665.11,170.46 1667.23,170.61C1669.35,170.76 1671.67,171.05 1673.57,171.79C1675.47,172.53 1677.3,173.66 1678.63,175.03C1679.96,176.41 1680.8,178.06 1681.54,180.06C1682.28,182.05 1682.53,184.83 1683.05,187.02C1683.57,189.21 1683.86,191.28 1684.66,193.2C1685.46,195.11 1686.51,197 1687.85,198.53C1689.19,200.05 1690.91,201.35 1692.69,202.33C1694.46,203.31 1696.5,203.97 1698.48,204.38C1700.45,204.79 1702.52,204.9 1704.54,204.81C1706.56,204.72 1708.58,204.34 1710.58,203.82C1712.59,203.3 1714.57,202.48 1716.55,201.68C1718.53,200.89 1720.35,199.86 1722.47,199.06C1724.59,198.25 1727.12,197.28 1729.26,196.87C1731.4,196.45 1733.26,196.46 1735.29,196.57C1737.32,196.68 1739.38,197.17 1741.44,197.53C1743.51,197.89 1745.59,198.42 1747.68,198.73C1749.77,199.03 1751.88,199.23 1753.98,199.36C1756.08,199.49 1758.19,199.41 1760.28,199.51C1762.37,199.62 1764.46,199.64 1766.5,199.97C1768.53,200.3 1770.56,200.76 1772.47,201.5C1774.37,202.24 1776.17,203.12 1777.94,204.44C1779.7,205.76 1781.72,207.69 1783.07,209.42C1784.42,211.16 1785.36,212.95 1786.05,214.84C1786.74,216.73 1787.14,218.79 1787.21,220.78C1787.28,222.78 1787.01,224.86 1786.48,226.83C1785.95,228.79 1785.1,230.79 1784.05,232.57C1783,234.36 1781.67,236.11 1780.2,237.54C1778.72,238.97 1777,240.23 1775.19,241.16C1773.39,242.09 1771.38,242.69 1769.37,243.12C1767.36,243.55 1765.38,243.6 1763.16,243.74C1760.93,243.88 1758.24,243.8 1756.01,243.95C1753.79,244.1 1751.87,244.26 1749.81,244.62C1747.75,244.97 1745.67,245.46 1743.66,246.08C1741.64,246.69 1739.61,247.44 1737.7,248.3C1735.79,249.16 1733.96,250.17 1732.19,251.24C1730.42,252.32 1728.79,253.58 1727.07,254.75C1725.36,255.92 1723.7,257.24 1721.9,258.27C1720.09,259.3 1718.2,260.29 1716.24,260.91C1714.28,261.53 1712.32,261.94 1710.13,262C1707.94,262.06 1705.25,261.71 1703.08,261.27C1700.91,260.83 1699.09,260.09 1697.11,259.37C1695.13,258.65 1693.19,257.7 1691.2,256.96C1689.21,256.23 1687.18,255.38 1685.18,254.95C1683.18,254.51 1681.15,254.21 1679.19,254.35C1677.24,254.49 1675.33,255.03 1673.47,255.79C1671.61,256.55 1669.85,257.78 1668.05,258.91C1666.25,260.03 1664.51,261.43 1662.69,262.54C1660.86,263.64 1659.17,264.71 1657.1,265.53C1655.04,266.36 1652.47,267.11 1650.31,267.48C1648.15,267.85 1646.18,267.91 1644.14,267.74C1642.1,267.57 1640,267.17 1638.08,266.46C1636.16,265.75 1634.26,264.72 1632.65,263.46C1631.03,262.19 1629.56,260.58 1628.39,258.89C1627.23,257.2 1626.32,255.25 1625.65,253.31C1624.97,251.37 1624.59,249.3 1624.37,247.26C1624.15,245.21 1624.18,243.12 1624.33,241.04C1624.48,238.97 1624.82,237.01 1625.26,234.8C1625.7,232.6 1626.45,229.97 1626.97,227.79C1627.5,225.61 1628.01,223.76 1628.4,221.72C1628.79,219.67 1629.09,217.61 1629.31,215.52C1629.53,213.43 1629.61,211.28 1629.71,209.17C1629.8,207.05 1629.83,204.92 1629.86,202.83C1629.89,200.74 1629.9,198.71 1629.88,196.63C1629.87,194.54 1629.76,192.46 1629.77,190.33C1629.78,188.21 1629.67,185.94 1629.95,183.86C1630.23,181.79 1630.46,179.66 1631.46,177.87C1632.46,176.09 1634.2,174.23 1635.95,173.18Z" fill="#f7cfd2"/>
<path d="M1640,193.33C1641.67,190.69 1646.67,187.78 1650,187.5C1653.33,187.22 1657.22,189.31 1660,191.67C1662.78,194.03 1664.17,198.33 1666.67,201.67C1669.17,205 1670.56,208.89 1675,211.67C1679.44,214.44 1687.5,216.39 1693.33,218.33C1699.17,220.28 1705.69,220.83 1710,223.33C1714.31,225.83 1718.33,230 1719.17,233.33C1720,236.67 1717.64,241.67 1715,243.33C1712.36,245 1706.94,244.72 1703.33,243.33C1699.72,241.94 1697.5,238.33 1693.33,235C1689.17,231.67 1683.33,226.94 1678.33,223.33C1673.33,219.72 1668.33,215.56 1663.33,213.33C1658.33,211.11 1652.22,211.67 1648.33,210C1644.44,208.33 1641.39,206.11 1640,203.33C1638.61,200.56 1638.33,195.97 1640,193.33Z" fill="#f3b7bc"/>
<path d="M1635.83,240C1637.08,235.83 1640.42,231.94 1643.33,230C1646.25,228.06 1650.69,227.5 1653.33,228.33C1655.97,229.17 1658.33,231.94 1659.17,235C1660,238.06 1659.31,242.78 1658.33,246.67C1657.36,250.56 1655.83,255.83 1653.33,258.33C1650.83,260.83 1646.25,262.22 1643.33,261.67C1640.42,261.11 1637.08,258.61 1635.83,255C1634.58,251.39 1634.58,244.17 1635.83,240Z" fill="#f3b7bc"/>
<path d="M1723.33,218.33C1723.61,216.53 1728.89,213.19 1733.33,211.67C1737.78,210.14 1744.44,209.44 1750,209.17C1755.56,208.89 1761.94,208.75 1766.67,210C1771.39,211.25 1776.11,213.89 1778.33,216.67C1780.56,219.44 1780.83,223.33 1780,226.67C1779.17,230 1775.83,234.58 1773.33,236.67C1770.83,238.75 1768.06,239.44 1765,239.17C1761.94,238.89 1758.61,237.08 1755,235C1751.39,232.92 1747.22,228.75 1743.33,226.67C1739.44,224.58 1735,223.89 1731.67,222.5C1728.33,221.11 1723.06,220.14 1723.33,218.33Z" fill="#f3b7bc"/>
<path d="M1645,198.33C1645.28,197.08 1649.31,194.72 1651.67,195C1654.03,195.28 1658.06,198.61 1659.17,200C1660.28,201.39 1659.86,202.92 1658.33,203.33C1656.81,203.75 1652.22,203.33 1650,202.5C1647.78,201.67 1644.72,199.58 1645,198.33Z" fill="#ee9aa2"/>
<path d="M1643.33,240C1643.75,237.5 1648.06,233.06 1650,232.5C1651.94,231.94 1654.44,234.58 1655,236.67C1655.56,238.75 1654.58,243.19 1653.33,245C1652.08,246.81 1649.17,248.33 1647.5,247.5C1645.83,246.67 1642.92,242.5 1643.33,240Z" fill="#ee9aa2"/>
<path d="M1701.67,230C1702.22,228.19 1704.58,225.83 1706.67,225.83C1708.75,225.83 1712.78,228.19 1714.17,230C1715.56,231.81 1715.69,235 1715,236.67C1714.31,238.33 1711.94,240 1710,240C1708.06,240 1704.72,238.33 1703.33,236.67C1701.94,235 1701.11,231.81 1701.67,230Z" fill="#ee9aa2"/>
<path d="M1740.83,216.67C1741.67,214.86 1746.25,213.47 1750,213.33C1753.75,213.19 1760,214.17 1763.33,215.83C1766.67,217.5 1769.17,220.42 1770,223.33C1770.83,226.25 1769.44,231.11 1768.33,233.33C1767.22,235.56 1765.83,237.22 1763.33,236.67C1760.83,236.11 1756.39,232.08 1753.33,230C1750.28,227.92 1747.08,226.39 1745,224.17C1742.92,221.94 1740,218.47 1740.83,216.67Z" fill="#ee9aa2"/>
<path d="M1634.04,303.73C1635.86,302.52 1638.3,301.98 1640.6,301.35C1642.89,300.71 1645.46,300.55 1647.82,299.93C1650.17,299.32 1652.44,298.55 1654.73,297.67C1657.01,296.8 1659.22,295.44 1661.53,294.67C1663.83,293.9 1666.29,293.02 1668.54,293.06C1670.79,293.11 1673.17,293.73 1675.02,294.95C1676.86,296.18 1678.43,298.3 1679.61,300.42C1680.79,302.55 1681.36,305.31 1682.12,307.72C1682.87,310.13 1683.21,312.7 1684.14,314.87C1685.07,317.04 1686.16,319.1 1687.72,320.75C1689.28,322.39 1691.38,323.82 1693.53,324.75C1695.68,325.68 1698.25,326.23 1700.63,326.32C1703.01,326.41 1705.47,325.92 1707.81,325.28C1710.15,324.64 1712.4,323.42 1714.7,322.48C1716.99,321.54 1719.26,320.34 1721.6,319.64C1723.94,318.93 1726.34,318.42 1728.74,318.24C1731.14,318.06 1733.58,318.31 1736,318.55C1738.41,318.8 1740.82,319.35 1743.24,319.7C1745.66,320.04 1748.08,320.4 1750.53,320.64C1752.97,320.88 1755.46,320.93 1757.92,321.13C1760.37,321.32 1762.86,321.37 1765.24,321.81C1767.62,322.25 1770,322.78 1772.17,323.74C1774.34,324.71 1776.47,326.01 1778.26,327.61C1780.04,329.2 1781.7,331.22 1782.88,333.31C1784.05,335.4 1784.94,337.82 1785.32,340.16C1785.71,342.49 1785.62,344.98 1785.19,347.31C1784.75,349.65 1783.82,352 1782.72,354.16C1781.61,356.32 1780.13,358.42 1778.57,360.29C1777.01,362.17 1775.23,363.89 1773.35,365.41C1771.47,366.92 1769.43,368.22 1767.31,369.38C1765.18,370.54 1762.9,371.49 1760.6,372.38C1758.3,373.26 1755.88,374.01 1753.51,374.7C1751.13,375.38 1748.73,376 1746.34,376.51C1743.95,377.02 1741.58,377.44 1739.17,377.77C1736.76,378.09 1734.34,378.28 1731.88,378.46C1729.43,378.65 1726.92,378.72 1724.44,378.87C1721.96,379.02 1719.46,379.16 1717,379.36C1714.54,379.55 1712.11,379.79 1709.69,380.04C1707.26,380.29 1704.87,380.54 1702.44,380.84C1700.02,381.15 1697.56,381.4 1695.14,381.86C1692.72,382.33 1690.24,382.81 1687.94,383.63C1685.64,384.45 1683.37,385.48 1681.34,386.8C1679.32,388.12 1677.49,389.81 1675.78,391.55C1674.07,393.3 1672.64,395.41 1671.07,397.29C1669.51,399.17 1668.11,401.23 1666.38,402.82C1664.66,404.41 1662.82,405.91 1660.72,406.86C1658.63,407.81 1656.21,408.39 1653.81,408.52C1651.41,408.65 1648.73,408.28 1646.34,407.64C1643.95,407 1641.54,405.92 1639.47,404.68C1637.39,403.45 1635.53,401.91 1633.89,400.23C1632.26,398.55 1630.86,396.65 1629.65,394.6C1628.45,392.55 1627.39,390.26 1626.66,387.93C1625.92,385.6 1625.38,383.05 1625.25,380.61C1625.11,378.17 1625.38,375.66 1625.85,373.27C1626.33,370.89 1627.3,368.6 1628.1,366.3C1628.91,364 1629.99,361.79 1630.66,359.46C1631.34,357.13 1631.91,354.75 1632.16,352.33C1632.42,349.91 1632.36,347.37 1632.21,344.93C1632.06,342.5 1631.66,340.08 1631.29,337.72C1630.92,335.35 1630.41,333.12 1629.98,330.74C1629.54,328.37 1628.99,325.98 1628.69,323.48C1628.39,320.99 1628.01,318.24 1628.18,315.76C1628.35,313.29 1628.72,310.65 1629.7,308.65C1630.67,306.64 1632.22,304.95 1634.04,303.73Z" fill="#e7e9ed"/>
<path d="M1637.5,315C1638.61,311.25 1641.81,309.17 1646.67,307.5C1651.53,305.83 1662.5,304.58 1666.67,305C1670.83,305.42 1672.22,308.06 1671.67,310C1671.11,311.94 1665.56,313.89 1663.33,316.67C1661.11,319.44 1660.56,323.75 1658.33,326.67C1656.11,329.58 1653.06,333.61 1650,334.17C1646.94,334.72 1642.08,333.19 1640,330C1637.92,326.81 1636.39,318.75 1637.5,315Z" fill="#d9dce4"/>
<path d="M1643.33,318.33C1644.17,315.69 1649.58,314.44 1651.67,315C1653.75,315.56 1655.56,319.17 1655.83,321.67C1656.11,324.17 1654.86,328.47 1653.33,330C1651.81,331.53 1648.33,332.78 1646.67,330.83C1645,328.89 1642.5,320.97 1643.33,318.33Z" fill="#ccd0da"/>
<path d="M1663.33,335C1664.44,333.06 1669.44,331.39 1673.33,331.67C1677.22,331.94 1681.67,334.44 1686.67,336.67C1691.67,338.89 1698.33,342.22 1703.33,345C1708.33,347.78 1713.89,349.72 1716.67,353.33C1719.44,356.94 1720.56,363.06 1720,366.67C1719.44,370.28 1716.11,374.44 1713.33,375C1710.56,375.56 1706.11,373.06 1703.33,370C1700.56,366.94 1700.56,360.56 1696.67,356.67C1692.78,352.78 1685,348.89 1680,346.67C1675,344.44 1669.44,345.28 1666.67,343.33C1663.89,341.39 1662.22,336.94 1663.33,335Z" fill="#d9dce4"/>
<path d="M1700,355C1701.11,353.19 1705.56,350.56 1708.33,350.83C1711.11,351.11 1715.56,354.03 1716.67,356.67C1717.78,359.31 1716.67,364.72 1715,366.67C1713.33,368.61 1708.89,369.17 1706.67,368.33C1704.44,367.5 1702.78,363.89 1701.67,361.67C1700.56,359.44 1698.89,356.81 1700,355Z" fill="#ccd0da"/>
<path d="M1721.67,338.33C1722.22,336.39 1730.83,333.06 1736.67,331.67C1742.5,330.28 1750.56,329.44 1756.67,330C1762.78,330.56 1769.86,332.22 1773.33,335C1776.81,337.78 1778.06,342.78 1777.5,346.67C1776.94,350.56 1773.47,356.11 1770,358.33C1766.53,360.56 1760.56,361.39 1756.67,360C1752.78,358.61 1750.56,352.78 1746.67,350C1742.78,347.22 1737.5,345.28 1733.33,343.33C1729.17,341.39 1721.11,340.28 1721.67,338.33Z" fill="#d9dce4"/>
<path d="M1740,338.33C1740.56,336.11 1748.89,333.33 1753.33,333.33C1757.78,333.33 1764.17,335.56 1766.67,338.33C1769.17,341.11 1769.44,347.22 1768.33,350C1767.22,352.78 1763.06,355.56 1760,355C1756.94,354.44 1753.33,349.44 1750,346.67C1746.67,343.89 1739.44,340.56 1740,338.33Z" fill="#ccd0da"/>
<path d="M1636.67,378.33C1637.5,374.17 1640.28,369.17 1643.33,366.67C1646.39,364.17 1651.67,362.78 1655,363.33C1658.33,363.89 1661.81,366.39 1663.33,370C1664.86,373.61 1665,380.56 1664.17,385C1663.33,389.44 1661.25,394.44 1658.33,396.67C1655.42,398.89 1650,399.17 1646.67,398.33C1643.33,397.5 1640,395 1638.33,391.67C1636.67,388.33 1635.83,382.5 1636.67,378.33Z" fill="#d9dce4"/>
<path d="M1644.17,378.33C1644.17,375.69 1647.92,371.39 1650,370.83C1652.08,370.28 1655.69,372.92 1656.67,375C1657.64,377.08 1656.94,381.39 1655.83,383.33C1654.72,385.28 1651.94,387.5 1650,386.67C1648.06,385.83 1644.17,380.97 1644.17,378.33Z" fill="#ccd0da"/>
<path d="M1732.39,415.07C1733.76,413.13 1735.45,411.46 1737.45,410.38C1739.45,409.29 1741.93,408.84 1744.37,408.55C1746.81,408.26 1749.52,408.53 1752.11,408.64C1754.69,408.74 1757.33,408.98 1759.89,409.19C1762.45,409.4 1765.05,409.45 1767.47,409.9C1769.88,410.34 1772.36,410.78 1774.4,411.85C1776.43,412.91 1778.32,414.4 1779.66,416.29C1781,418.17 1781.87,420.68 1782.43,423.14C1783,425.61 1782.99,428.46 1783.05,431.07C1783.11,433.68 1782.84,436.29 1782.78,438.79C1782.73,441.3 1782.67,443.65 1782.72,446.1C1782.78,448.55 1782.96,450.97 1783.1,453.49C1783.24,456.01 1783.43,458.63 1783.57,461.21C1783.71,463.79 1783.82,466.43 1783.94,468.97C1784.06,471.52 1784.17,473.99 1784.29,476.47C1784.42,478.95 1784.59,481.35 1784.68,483.84C1784.77,486.34 1784.9,488.87 1784.84,491.42C1784.78,493.98 1784.67,496.64 1784.32,499.17C1783.96,501.71 1783.48,504.28 1782.7,506.62C1781.92,508.96 1780.93,511.21 1779.63,513.22C1778.34,515.23 1776.75,517.09 1774.91,518.68C1773.08,520.26 1770.89,521.69 1768.62,522.74C1766.35,523.8 1763.76,524.64 1761.3,525C1758.84,525.37 1756.19,525.39 1753.87,524.91C1751.54,524.44 1749.24,523.48 1747.34,522.15C1745.44,520.83 1743.79,518.96 1742.44,516.96C1741.09,514.96 1740.15,512.51 1739.25,510.14C1738.36,507.77 1737.82,505.16 1737.07,502.73C1736.32,500.29 1735.7,497.82 1734.73,495.53C1733.75,493.24 1732.64,491.01 1731.23,488.98C1729.81,486.95 1728.11,485 1726.25,483.33C1724.39,481.66 1722.27,480.13 1720.09,478.96C1717.91,477.79 1715.56,476.89 1713.18,476.31C1710.81,475.73 1708.32,475.54 1705.82,475.48C1703.33,475.43 1700.75,475.73 1698.22,476C1695.69,476.26 1693.13,476.71 1690.62,477.07C1688.11,477.44 1685.64,477.82 1683.17,478.19C1680.69,478.56 1678.26,478.92 1675.78,479.28C1673.29,479.64 1670.79,480.04 1668.26,480.34C1665.73,480.63 1663.15,480.96 1660.61,481.06C1658.08,481.16 1655.53,481.18 1653.04,480.96C1650.55,480.73 1648.08,480.33 1645.69,479.7C1643.29,479.07 1640.89,478.26 1638.66,477.18C1636.43,476.11 1634.18,474.83 1632.31,473.24C1630.44,471.65 1628.67,469.75 1627.46,467.63C1626.25,465.52 1625.36,462.99 1625.06,460.55C1624.76,458.11 1624.98,455.35 1625.64,453.01C1626.31,450.67 1627.55,448.33 1629.05,446.51C1630.56,444.69 1632.57,443.24 1634.68,442.11C1636.79,440.98 1639.28,440.34 1641.72,439.74C1644.16,439.13 1646.8,438.87 1649.33,438.46C1651.85,438.06 1654.39,437.73 1656.87,437.32C1659.35,436.9 1661.76,436.39 1664.22,435.98C1666.67,435.56 1669.11,435.07 1671.62,434.83C1674.13,434.59 1676.71,434.43 1679.25,434.54C1681.79,434.65 1684.37,435.01 1686.86,435.48C1689.34,435.96 1691.75,436.73 1694.17,437.37C1696.58,438.01 1698.92,438.84 1701.35,439.32C1703.79,439.79 1706.33,440.25 1708.8,440.21C1711.28,440.17 1713.94,439.89 1716.21,439.1C1718.48,438.31 1720.7,437.08 1722.42,435.47C1724.15,433.86 1725.42,431.68 1726.56,429.44C1727.7,427.2 1728.28,424.42 1729.26,422.03C1730.23,419.63 1731.03,417.01 1732.39,415.07Z" fill="#eadcf0"/>
<path d="M1640,458.33C1640.83,454.72 1643.33,450.56 1648.33,448.33C1653.33,446.11 1663.06,445 1670,445C1676.94,445 1685.42,446.39 1690,448.33C1694.58,450.28 1696.94,454.31 1697.5,456.67C1698.06,459.03 1696.25,461.11 1693.33,462.5C1690.42,463.89 1683.89,463.19 1680,465C1676.11,466.81 1674.17,471.53 1670,473.33C1665.83,475.14 1659.44,476.39 1655,475.83C1650.56,475.28 1645.83,472.92 1643.33,470C1640.83,467.08 1639.17,461.94 1640,458.33Z" fill="#dfc9e8"/>
<path d="M1649.17,460C1649.44,457.36 1651.25,454.11 1655,452.5C1658.75,450.89 1667.64,450.06 1671.67,450.33C1675.69,450.61 1678.89,452.28 1679.17,454.17C1679.44,456.06 1675.69,459.44 1673.33,461.67C1670.97,463.89 1668.33,466.39 1665,467.5C1661.67,468.61 1655.97,469.58 1653.33,468.33C1650.69,467.08 1648.89,462.64 1649.17,460Z" fill="#d4b6e1"/>
<path d="M1745,493.33C1745.28,489.03 1747.5,482.92 1750,480.83C1752.5,478.75 1756.67,479.03 1760,480.83C1763.33,482.64 1767.64,487.64 1770,491.67C1772.36,495.69 1774.44,501.11 1774.17,505C1773.89,508.89 1771.25,513.19 1768.33,515C1765.42,516.81 1760,517.22 1756.67,515.83C1753.33,514.44 1750.28,510.42 1748.33,506.67C1746.39,502.92 1744.72,497.64 1745,493.33Z" fill="#dfc9e8"/>
<path d="M1749.17,490C1749.86,488.06 1752.92,484.44 1755,484.17C1757.08,483.89 1760.56,486.25 1761.67,488.33C1762.78,490.42 1762.64,494.86 1761.67,496.67C1760.69,498.47 1757.64,499.31 1755.83,499.17C1754.03,499.03 1751.94,497.36 1750.83,495.83C1749.72,494.31 1748.47,491.94 1749.17,490Z" fill="#d4b6e1"/>
<path d="M1740,431.67C1740,427.5 1742.22,425.42 1745,423.33C1747.78,421.25 1752.78,419.17 1756.67,419.17C1760.56,419.17 1765.28,420.97 1768.33,423.33C1771.39,425.69 1774.17,429.44 1775,433.33C1775.83,437.22 1774.72,443.06 1773.33,446.67C1771.94,450.28 1769.72,453.33 1766.67,455C1763.61,456.67 1758.61,457.78 1755,456.67C1751.39,455.56 1747.5,452.5 1745,448.33C1742.5,444.17 1740,435.83 1740,431.67Z" fill="#dfc9e8"/>
<path d="M1753.33,435C1754.03,432.5 1756.11,428.61 1758.33,428.33C1760.56,428.06 1765.28,430.83 1766.67,433.33C1768.06,435.83 1767.78,440.83 1766.67,443.33C1765.56,445.83 1762.08,448.33 1760,448.33C1757.92,448.33 1755.28,445.56 1754.17,443.33C1753.06,441.11 1752.64,437.5 1753.33,435Z" fill="#d4b6e1"/>
<path d="M1758.3,230V336.7M1758.3,357.2V450" stroke="#000" stroke-width="2.4"/>
<circle cx="1758.3" cy="230" r="6.1" fill="#000"/>
<circle cx="1758.3" cy="336.7" r="6.1" fill="#000"/>
<circle cx="1758.3" cy="357.2" r="6.1" fill="#000"/>
<circle cx="1758.3" cy="450" r="6.1" fill="#000"/>
<path d="M1832,164L1845.2,525.8H1819.4Z" fill="url(#gw)"/>
<text transform="translate(1872.3 381.8) rotate(-90) translate(-100 -100)" y="100" font-family="&quot;Liberation Sans&quot;, sans-serif" font-size="35" fill="#626262" stroke="#626262" stroke-width="0.7"><tspan x="98.01" textLength="114.56" lengthAdjust="spacingAndGlyphs">physical</tspan> <tspan x="219.02" textLength="81.17" lengthAdjust="spacingAndGlyphs">scales</tspan></text>
<text y="107.44" font-family="&quot;Liberation Serif&quot;, serif" font-weight="bold" font-size="36.2" fill="#0a0a0a" stroke="#0a0a0a" stroke-width="1.4" stroke-linejoin="round"><tspan x="56.76" textLength="199.67" lengthAdjust="spacingAndGlyphs">Multi-modal</tspan> <tspan x="264.96" textLength="239.21" lengthAdjust="spacingAndGlyphs">measurements</tspan> <tspan x="511.97" textLength="102.82" lengthAdjust="spacingAndGlyphs">across</tspan></text>
<text y="147.44" font-family="&quot;Liberation Serif&quot;, serif" font-weight="bold" font-size="36.2" fill="#0a0a0a" stroke="#0a0a0a" stroke-width="1.4" stroke-linejoin="round"><tspan x="55.53" textLength="140.48" lengthAdjust="spacingAndGlyphs">different</tspan> <tspan x="204.74" textLength="95.61" lengthAdjust="spacingAndGlyphs">scales</tspan> <tspan x="307.35" textLength="35.2" lengthAdjust="spacingAndGlyphs">of</tspan> <tspan x="347.56" textLength="52.05" lengthAdjust="spacingAndGlyphs">the</tspan> <tspan x="406.87" textLength="55.82" lengthAdjust="spacingAndGlyphs">cell</tspan></text>
<text y="113.14" font-family="&quot;Liberation Serif&quot;, serif" font-weight="bold" font-size="36.2" fill="#0a0a0a" stroke="#0a0a0a" stroke-width="1.4" stroke-linejoin="round"><tspan x="1055.62" textLength="34.42" lengthAdjust="spacingAndGlyphs">AI</tspan> <tspan x="1097.78" textLength="112.18" lengthAdjust="spacingAndGlyphs">Virtual</tspan> <tspan x="1216.73" textLength="60.67" lengthAdjust="spacingAndGlyphs">Cell</tspan></text>
<text y="153.24" font-family="&quot;Liberation Serif&quot;, serif" font-weight="bold" font-size="36.2" fill="#0a0a0a" stroke="#0a0a0a" stroke-width="1.4" stroke-linejoin="round"><tspan x="1056.13" textLength="187.76" lengthAdjust="spacingAndGlyphs">Foundation</tspan> <tspan x="1251.76" textLength="99.3" lengthAdjust="spacingAndGlyphs">Model</tspan></text>
<text y="106.94" font-family="&quot;Liberation Serif&quot;, serif" font-weight="bold" font-size="36.2" fill="#0a0a0a" stroke="#0a0a0a" stroke-width="1.4" stroke-linejoin="round"><tspan x="1610.98" textLength="151.29" lengthAdjust="spacingAndGlyphs">Universal</tspan></text>
<text y="146.94" font-family="&quot;Liberation Serif&quot;, serif" font-weight="bold" font-size="36.2" fill="#0a0a0a" stroke="#0a0a0a" stroke-width="1.4" stroke-linejoin="round"><tspan x="1611.3" textLength="268.09" lengthAdjust="spacingAndGlyphs">Representations</tspan></text>
<text y="199.90" font-family="&quot;Liberation Serif&quot;, serif" font-weight="bold" font-size="26.2" fill="#d95866" stroke="#d95866" stroke-width="1.0" stroke-linejoin="round"><tspan x="408.88" textLength="97.95" lengthAdjust="spacingAndGlyphs">genomic</tspan></text>
<text y="229.90" font-family="&quot;Liberation Serif&quot;, serif" font-weight="bold" font-size="26.2" fill="#d95866" stroke="#d95866" stroke-width="1.0" stroke-linejoin="round"><tspan x="368.38" textLength="138.03" lengthAdjust="spacingAndGlyphs">information</tspan></text>
<text y="298.80" font-family="&quot;Liberation Serif&quot;, serif" font-weight="bold" font-size="26.2" fill="#d95866" stroke="#d95866" stroke-width="1.0" stroke-linejoin="round"><tspan x="406.38" textLength="136.65" lengthAdjust="spacingAndGlyphs">information</tspan> <tspan x="548.47" textLength="28.9" lengthAdjust="spacingAndGlyphs">on</tspan></text>
<text y="328.80" font-family="&quot;Liberation Serif&quot;, serif" font-weight="bold" font-size="26.2" fill="#d95866" stroke="#d95866" stroke-width="1.0" stroke-linejoin="round"><tspan x="333.56" textLength="103.19" lengthAdjust="spacingAndGlyphs">molecule</tspan> <tspan x="443.76" textLength="133.58" lengthAdjust="spacingAndGlyphs">localization</tspan></text>
<text y="388.80" font-family="&quot;Liberation Serif&quot;, serif" font-weight="bold" font-size="26.2" fill="#8fa0cb" stroke="#8fa0cb" stroke-width="1.0" stroke-linejoin="round"><tspan x="516.0" textLength="129.24" lengthAdjust="spacingAndGlyphs">phenotypic</tspan></text>
<text y="420.10" font-family="&quot;Liberation Serif&quot;, serif" font-weight="bold" font-size="26.2" fill="#8fa0cb" stroke="#8fa0cb" stroke-width="1.0" stroke-linejoin="round"><tspan x="507.78" textLength="137.1" lengthAdjust="spacingAndGlyphs">information</tspan></text>
<text y="494.30" font-family="&quot;Liberation Serif&quot;, serif" font-weight="bold" font-size="26.2" fill="#b997d1" stroke="#b997d1" stroke-width="1.0" stroke-linejoin="round"><tspan x="690.44" textLength="76.89" lengthAdjust="spacingAndGlyphs">spatial</tspan></text>
<text y="525.10" font-family="&quot;Liberation Serif&quot;, serif" font-weight="bold" font-size="26.2" fill="#b997d1" stroke="#b997d1" stroke-width="1.0" stroke-linejoin="round"><tspan x="629.78" textLength="137.85" lengthAdjust="spacingAndGlyphs">information</tspan></text>
<text y="199.80" font-family="&quot;Liberation Sans&quot;, sans-serif" font-weight="normal" font-size="25" fill="#0a0a0a" stroke="#0a0a0a" stroke-width="0.5" stroke-linejoin="round"><tspan x="522.41" textLength="46.83" lengthAdjust="spacingAndGlyphs">e.g.,</tspan></text>
<text y="199.80" font-family="&quot;Liberation Sans&quot;, sans-serif" font-weight="normal" font-size="25" fill="#0a0a0a" stroke="#0a0a0a" stroke-width="0.5" stroke-linejoin="round"><tspan x="638.48" textLength="64.08" lengthAdjust="spacingAndGlyphs">whole</tspan></text>
<text y="229.30" font-family="&quot;Liberation Sans&quot;, sans-serif" font-weight="normal" font-size="25" fill="#0a0a0a" stroke="#0a0a0a" stroke-width="0.5" stroke-linejoin="round"><tspan x="637.3" textLength="88.16" lengthAdjust="spacingAndGlyphs">genome</tspan></text>
<text y="260.60" font-family="&quot;Liberation Sans&quot;, sans-serif" font-weight="normal" font-size="25" fill="#0a0a0a" stroke="#0a0a0a" stroke-width="0.5" stroke-linejoin="round"><tspan x="637.53" textLength="125.53" lengthAdjust="spacingAndGlyphs">sequencing</tspan></text>
<text y="296.50" font-family="&quot;Liberation Sans&quot;, sans-serif" font-weight="normal" font-size="25" fill="#0a0a0a" stroke="#0a0a0a" stroke-width="0.5" stroke-linejoin="round"><tspan x="597.4" textLength="46.35" lengthAdjust="spacingAndGlyphs">e.g.,</tspan></text>
<text y="309.50" font-family="&quot;Liberation Sans&quot;, sans-serif" font-weight="normal" font-size="25" fill="#0a0a0a" stroke="#0a0a0a" stroke-width="0.5" stroke-linejoin="round"><tspan x="724.24" textLength="137.45" lengthAdjust="spacingAndGlyphs">fluorescence</tspan></text>
<text y="339.00" font-family="&quot;Liberation Sans&quot;, sans-serif" font-weight="normal" font-size="25" fill="#0a0a0a" stroke="#0a0a0a" stroke-width="0.5" stroke-linejoin="round"><tspan x="723.25" textLength="126.1" lengthAdjust="spacingAndGlyphs">microscopy</tspan></text>
<text y="388.10" font-family="&quot;Liberation Sans&quot;, sans-serif" font-weight="normal" font-size="25" fill="#0a0a0a" stroke="#0a0a0a" stroke-width="0.5" stroke-linejoin="round"><tspan x="664.4" textLength="47.28" lengthAdjust="spacingAndGlyphs">e.g.,</tspan></text>
<text y="397.80" font-family="&quot;Liberation Sans&quot;, sans-serif" font-weight="normal" font-size="25" fill="#0a0a0a" stroke="#0a0a0a" stroke-width="0.5" stroke-linejoin="round"><tspan x="843.27" textLength="103.87" lengthAdjust="spacingAndGlyphs">multiplex</tspan></text>
<text y="427.80" font-family="&quot;Liberation Sans&quot;, sans-serif" font-weight="normal" font-size="25" fill="#0a0a0a" stroke="#0a0a0a" stroke-width="0.5" stroke-linejoin="round"><tspan x="843.42" textLength="89.59" lengthAdjust="spacingAndGlyphs">imaging</tspan></text>
<text y="397.80" font-family="&quot;Liberation Sans&quot;, sans-serif" font-weight="normal" font-size="25" fill="#0a0a0a" stroke="#0a0a0a" stroke-width="0.5" stroke-linejoin="round"><tspan x="1085.23" textLength="109.81" lengthAdjust="spacingAndGlyphs">single-cell</tspan></text>
<text y="427.80" font-family="&quot;Liberation Sans&quot;, sans-serif" font-weight="normal" font-size="25" fill="#0a0a0a" stroke="#0a0a0a" stroke-width="0.5" stroke-linejoin="round"><tspan x="1084.65" textLength="92.79" lengthAdjust="spacingAndGlyphs">RNA-seq</tspan></text>
<text y="490.10" font-family="&quot;Liberation Sans&quot;, sans-serif" font-weight="normal" font-size="25" fill="#0a0a0a" stroke="#0a0a0a" stroke-width="0.5" stroke-linejoin="round"><tspan x="790.4" textLength="46.35" lengthAdjust="spacingAndGlyphs">e.g.,</tspan></text>
<text y="494.50" font-family="&quot;Liberation Sans&quot;, sans-serif" font-weight="normal" font-size="25" fill="#0a0a0a" stroke="#0a0a0a" stroke-width="0.5" stroke-linejoin="round"><tspan x="956.98" textLength="72.56" lengthAdjust="spacingAndGlyphs">spatial</tspan></text>
<text y="524.80" font-family="&quot;Liberation Sans&quot;, sans-serif" font-weight="normal" font-size="25" fill="#0a0a0a" stroke="#0a0a0a" stroke-width="0.5" stroke-linejoin="round"><tspan x="957.58" textLength="172.15" lengthAdjust="spacingAndGlyphs">transcriptomics</tspan></text>
<text y="236.50" font-family="&quot;Liberation Sans&quot;, sans-serif" font-weight="normal" font-size="24" fill="#0a0a0a" stroke="#0a0a0a" stroke-width="0.5" stroke-linejoin="round"><tspan x="77.93" textLength="37.85" lengthAdjust="spacingAndGlyphs">cell</tspan></text>
<text y="465.60" font-family="&quot;Liberation Sans&quot;, sans-serif" font-weight="normal" font-size="24" fill="#0a0a0a" stroke="#0a0a0a" stroke-width="0.5" stroke-linejoin="round"><tspan x="65.42" textLength="62.75" lengthAdjust="spacingAndGlyphs">tissue</tspan></text>
<text y="234.42" font-family="&quot;Liberation Sans&quot;, sans-serif" font-weight="normal" font-size="35" fill="#0a0a0a" stroke="#0a0a0a" stroke-width="0.7" stroke-linejoin="round"><tspan x="1375.55" textLength="156.36" lengthAdjust="spacingAndGlyphs">molecular</tspan> <tspan x="1538.76" textLength="46.93" lengthAdjust="spacingAndGlyphs">UR</tspan></text>
<text y="358.42" font-family="&quot;Liberation Sans&quot;, sans-serif" font-weight="normal" font-size="35" fill="#0a0a0a" stroke="#0a0a0a" stroke-width="0.7" stroke-linejoin="round"><tspan x="1417.07" textLength="114.83" lengthAdjust="spacingAndGlyphs">cellular</tspan> <tspan x="1538.76" textLength="46.93" lengthAdjust="spacingAndGlyphs">UR</tspan></text>
<text y="482.52" font-family="&quot;Liberation Sans&quot;, sans-serif" font-weight="normal" font-size="35" fill="#0a0a0a" stroke="#0a0a0a" stroke-width="0.7" stroke-linejoin="round"><tspan x="1335.0" textLength="197.33" lengthAdjust="spacingAndGlyphs">multicellular</tspan> <tspan x="1538.93" textLength="47.1" lengthAdjust="spacingAndGlyphs">UR</tspan></text>
</svg>
</body>
</html>
